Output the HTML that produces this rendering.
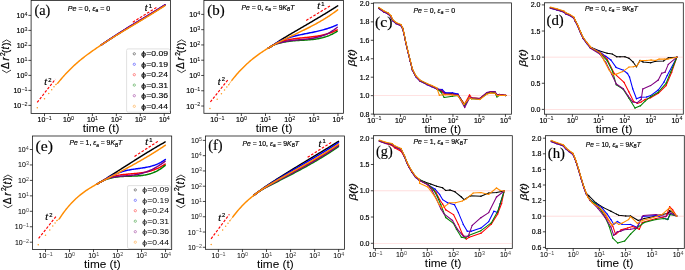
<!DOCTYPE html>
<html><head><meta charset="utf-8"><style>
html,body{margin:0;padding:0;background:#fff;width:685px;height:270px;overflow:hidden;}
svg{display:block;will-change:transform;}
text{stroke:#000;stroke-width:0.18px;}
.r2{stroke-width:0.06px;}
.s1{stroke-width:0.04px;}
.s2{stroke-width:0px;fill-opacity:0.75;}
.xl{stroke-width:0.03px;}
svg{font-family:"Liberation Sans", sans-serif;}
</style></head><body>
<svg xmlns="http://www.w3.org/2000/svg" width="685" height="270" viewBox="0 0 685 270"><rect width="685" height="270" fill="#fff"/><defs>
<clipPath id="clipa"><rect x="31.1" y="0.4" width="139.4" height="113"/></clipPath>
<clipPath id="clipb"><rect x="203.9" y="0.4" width="139.7" height="112.9"/></clipPath>
<clipPath id="clipc"><rect x="373.5" y="2.9" width="138" height="111.3"/></clipPath>
<clipPath id="clipd"><rect x="544.5" y="2.8" width="138.8" height="111.4"/></clipPath>
<clipPath id="clipe"><rect x="32.5" y="136" width="139.2" height="113.4"/></clipPath>
<clipPath id="clipf"><rect x="205.5" y="136" width="139.1" height="113.3"/></clipPath>
<clipPath id="clipg"><rect x="373.6" y="135.7" width="138.7" height="112.7"/></clipPath>
<clipPath id="cliph"><rect x="545.6" y="135.7" width="138.7" height="112.7"/></clipPath>
</defs>
<line x1="44.5" y1="113.4" x2="44.5" y2="116.1" stroke="#141414" stroke-width="0.78"/>
<line x1="68.45" y1="113.4" x2="68.45" y2="116.1" stroke="#141414" stroke-width="0.78"/>
<line x1="92.4" y1="113.4" x2="92.4" y2="116.1" stroke="#141414" stroke-width="0.78"/>
<line x1="116.35" y1="113.4" x2="116.35" y2="116.1" stroke="#141414" stroke-width="0.78"/>
<line x1="140.3" y1="113.4" x2="140.3" y2="116.1" stroke="#141414" stroke-width="0.78"/>
<line x1="164.25" y1="113.4" x2="164.25" y2="116.1" stroke="#141414" stroke-width="0.78"/>
<text x="37.62" y="121.7" font-family='"Liberation Sans", sans-serif' font-size="7" fill="#000000">10</text><text x="45.55" y="119.6" font-family='"Liberation Sans", sans-serif' font-size="5.4" fill="#000000" class="s1">−1</text>
<text x="63.12" y="121.7" font-family='"Liberation Sans", sans-serif' font-size="7" fill="#000000">10</text><text x="71.06" y="119.6" font-family='"Liberation Sans", sans-serif' font-size="5.4" fill="#000000" class="s1">0</text>
<text x="87.1" y="121.7" font-family='"Liberation Sans", sans-serif' font-size="7" fill="#000000">10</text><text x="95.03" y="119.6" font-family='"Liberation Sans", sans-serif' font-size="5.4" fill="#000000" class="s1">1</text>
<text x="111.05" y="121.7" font-family='"Liberation Sans", sans-serif' font-size="7" fill="#000000">10</text><text x="118.99" y="119.6" font-family='"Liberation Sans", sans-serif' font-size="5.4" fill="#000000" class="s1">2</text>
<text x="134.98" y="121.7" font-family='"Liberation Sans", sans-serif' font-size="7" fill="#000000">10</text><text x="142.92" y="119.6" font-family='"Liberation Sans", sans-serif' font-size="5.4" fill="#000000" class="s1">3</text>
<text x="158.89" y="121.7" font-family='"Liberation Sans", sans-serif' font-size="7" fill="#000000">10</text><text x="166.83" y="119.6" font-family='"Liberation Sans", sans-serif' font-size="5.4" fill="#000000" class="s1">4</text>
<line x1="28.4" y1="105.4" x2="31.1" y2="105.4" stroke="#141414" stroke-width="0.78"/>
<line x1="28.4" y1="90.4" x2="31.1" y2="90.4" stroke="#141414" stroke-width="0.78"/>
<line x1="28.4" y1="75.4" x2="31.1" y2="75.4" stroke="#141414" stroke-width="0.78"/>
<line x1="28.4" y1="60.4" x2="31.1" y2="60.4" stroke="#141414" stroke-width="0.78"/>
<line x1="28.4" y1="45.4" x2="31.1" y2="45.4" stroke="#141414" stroke-width="0.78"/>
<line x1="28.4" y1="30.4" x2="31.1" y2="30.4" stroke="#141414" stroke-width="0.78"/>
<line x1="28.4" y1="15.4" x2="31.1" y2="15.4" stroke="#141414" stroke-width="0.78"/>
<text x="13.48" y="107.9" font-family='"Liberation Sans", sans-serif' font-size="7" fill="#000000">10</text><text x="21.41" y="105.8" font-family='"Liberation Sans", sans-serif' font-size="5.4" fill="#000000" class="s1">−2</text>
<text x="13.47" y="92.9" font-family='"Liberation Sans", sans-serif' font-size="7" fill="#000000">10</text><text x="21.41" y="90.8" font-family='"Liberation Sans", sans-serif' font-size="5.4" fill="#000000" class="s1">−1</text>
<text x="16.57" y="77.9" font-family='"Liberation Sans", sans-serif' font-size="7" fill="#000000">10</text><text x="24.51" y="75.8" font-family='"Liberation Sans", sans-serif' font-size="5.4" fill="#000000" class="s1">0</text>
<text x="16.62" y="62.9" font-family='"Liberation Sans", sans-serif' font-size="7" fill="#000000">10</text><text x="24.56" y="60.8" font-family='"Liberation Sans", sans-serif' font-size="5.4" fill="#000000" class="s1">1</text>
<text x="16.63" y="47.9" font-family='"Liberation Sans", sans-serif' font-size="7" fill="#000000">10</text><text x="24.57" y="45.8" font-family='"Liberation Sans", sans-serif' font-size="5.4" fill="#000000" class="s1">2</text>
<text x="16.6" y="32.9" font-family='"Liberation Sans", sans-serif' font-size="7" fill="#000000">10</text><text x="24.53" y="30.8" font-family='"Liberation Sans", sans-serif' font-size="5.4" fill="#000000" class="s1">3</text>
<text x="16.52" y="17.9" font-family='"Liberation Sans", sans-serif' font-size="7" fill="#000000">10</text><text x="24.45" y="15.8" font-family='"Liberation Sans", sans-serif' font-size="5.4" fill="#000000" class="s1">4</text>
<rect x="31.1" y="0.4" width="139.4" height="113" fill="none" stroke="#141414" stroke-width="0.78"/>
<line x1="217.2" y1="113.3" x2="217.2" y2="116" stroke="#141414" stroke-width="0.78"/>
<line x1="241.35" y1="113.3" x2="241.35" y2="116" stroke="#141414" stroke-width="0.78"/>
<line x1="265.5" y1="113.3" x2="265.5" y2="116" stroke="#141414" stroke-width="0.78"/>
<line x1="289.65" y1="113.3" x2="289.65" y2="116" stroke="#141414" stroke-width="0.78"/>
<line x1="313.8" y1="113.3" x2="313.8" y2="116" stroke="#141414" stroke-width="0.78"/>
<line x1="337.95" y1="113.3" x2="337.95" y2="116" stroke="#141414" stroke-width="0.78"/>
<text x="210.32" y="121.6" font-family='"Liberation Sans", sans-serif' font-size="7" fill="#000000">10</text><text x="218.25" y="119.5" font-family='"Liberation Sans", sans-serif' font-size="5.4" fill="#000000" class="s1">−1</text>
<text x="236.02" y="121.6" font-family='"Liberation Sans", sans-serif' font-size="7" fill="#000000">10</text><text x="243.96" y="119.5" font-family='"Liberation Sans", sans-serif' font-size="5.4" fill="#000000" class="s1">0</text>
<text x="260.2" y="121.6" font-family='"Liberation Sans", sans-serif' font-size="7" fill="#000000">10</text><text x="268.13" y="119.5" font-family='"Liberation Sans", sans-serif' font-size="5.4" fill="#000000" class="s1">1</text>
<text x="284.35" y="121.6" font-family='"Liberation Sans", sans-serif' font-size="7" fill="#000000">10</text><text x="292.29" y="119.5" font-family='"Liberation Sans", sans-serif' font-size="5.4" fill="#000000" class="s1">2</text>
<text x="308.48" y="121.6" font-family='"Liberation Sans", sans-serif' font-size="7" fill="#000000">10</text><text x="316.42" y="119.5" font-family='"Liberation Sans", sans-serif' font-size="5.4" fill="#000000" class="s1">3</text>
<text x="332.59" y="121.6" font-family='"Liberation Sans", sans-serif' font-size="7" fill="#000000">10</text><text x="340.53" y="119.5" font-family='"Liberation Sans", sans-serif' font-size="5.4" fill="#000000" class="s1">4</text>
<line x1="201.2" y1="106.02" x2="203.9" y2="106.02" stroke="#141414" stroke-width="0.78"/>
<line x1="201.2" y1="90.75" x2="203.9" y2="90.75" stroke="#141414" stroke-width="0.78"/>
<line x1="201.2" y1="75.48" x2="203.9" y2="75.48" stroke="#141414" stroke-width="0.78"/>
<line x1="201.2" y1="60.21" x2="203.9" y2="60.21" stroke="#141414" stroke-width="0.78"/>
<line x1="201.2" y1="44.94" x2="203.9" y2="44.94" stroke="#141414" stroke-width="0.78"/>
<line x1="201.2" y1="29.67" x2="203.9" y2="29.67" stroke="#141414" stroke-width="0.78"/>
<line x1="201.2" y1="14.4" x2="203.9" y2="14.4" stroke="#141414" stroke-width="0.78"/>
<text x="186.28" y="108.52" font-family='"Liberation Sans", sans-serif' font-size="7" fill="#000000">10</text><text x="194.21" y="106.42" font-family='"Liberation Sans", sans-serif' font-size="5.4" fill="#000000" class="s1">−2</text>
<text x="186.27" y="93.25" font-family='"Liberation Sans", sans-serif' font-size="7" fill="#000000">10</text><text x="194.21" y="91.15" font-family='"Liberation Sans", sans-serif' font-size="5.4" fill="#000000" class="s1">−1</text>
<text x="189.37" y="77.98" font-family='"Liberation Sans", sans-serif' font-size="7" fill="#000000">10</text><text x="197.31" y="75.88" font-family='"Liberation Sans", sans-serif' font-size="5.4" fill="#000000" class="s1">0</text>
<text x="189.42" y="62.71" font-family='"Liberation Sans", sans-serif' font-size="7" fill="#000000">10</text><text x="197.36" y="60.61" font-family='"Liberation Sans", sans-serif' font-size="5.4" fill="#000000" class="s1">1</text>
<text x="189.43" y="47.44" font-family='"Liberation Sans", sans-serif' font-size="7" fill="#000000">10</text><text x="197.37" y="45.34" font-family='"Liberation Sans", sans-serif' font-size="5.4" fill="#000000" class="s1">2</text>
<text x="189.4" y="32.17" font-family='"Liberation Sans", sans-serif' font-size="7" fill="#000000">10</text><text x="197.33" y="30.07" font-family='"Liberation Sans", sans-serif' font-size="5.4" fill="#000000" class="s1">3</text>
<text x="189.32" y="16.9" font-family='"Liberation Sans", sans-serif' font-size="7" fill="#000000">10</text><text x="197.25" y="14.8" font-family='"Liberation Sans", sans-serif' font-size="5.4" fill="#000000" class="s1">4</text>
<rect x="203.9" y="0.4" width="139.7" height="112.9" fill="none" stroke="#141414" stroke-width="0.78"/>
<line x1="374.2" y1="114.2" x2="374.2" y2="116.9" stroke="#141414" stroke-width="0.78"/>
<line x1="400.45" y1="114.2" x2="400.45" y2="116.9" stroke="#141414" stroke-width="0.78"/>
<line x1="426.7" y1="114.2" x2="426.7" y2="116.9" stroke="#141414" stroke-width="0.78"/>
<line x1="452.95" y1="114.2" x2="452.95" y2="116.9" stroke="#141414" stroke-width="0.78"/>
<line x1="479.2" y1="114.2" x2="479.2" y2="116.9" stroke="#141414" stroke-width="0.78"/>
<line x1="505.45" y1="114.2" x2="505.45" y2="116.9" stroke="#141414" stroke-width="0.78"/>
<text x="367.32" y="122.5" font-family='"Liberation Sans", sans-serif' font-size="7" fill="#000000">10</text><text x="375.25" y="120.4" font-family='"Liberation Sans", sans-serif' font-size="5.4" fill="#000000" class="s1">−1</text>
<text x="395.12" y="122.5" font-family='"Liberation Sans", sans-serif' font-size="7" fill="#000000">10</text><text x="403.06" y="120.4" font-family='"Liberation Sans", sans-serif' font-size="5.4" fill="#000000" class="s1">0</text>
<text x="421.4" y="122.5" font-family='"Liberation Sans", sans-serif' font-size="7" fill="#000000">10</text><text x="429.33" y="120.4" font-family='"Liberation Sans", sans-serif' font-size="5.4" fill="#000000" class="s1">1</text>
<text x="447.65" y="122.5" font-family='"Liberation Sans", sans-serif' font-size="7" fill="#000000">10</text><text x="455.59" y="120.4" font-family='"Liberation Sans", sans-serif' font-size="5.4" fill="#000000" class="s1">2</text>
<text x="473.88" y="122.5" font-family='"Liberation Sans", sans-serif' font-size="7" fill="#000000">10</text><text x="481.82" y="120.4" font-family='"Liberation Sans", sans-serif' font-size="5.4" fill="#000000" class="s1">3</text>
<text x="500.09" y="122.5" font-family='"Liberation Sans", sans-serif' font-size="7" fill="#000000">10</text><text x="508.03" y="120.4" font-family='"Liberation Sans", sans-serif' font-size="5.4" fill="#000000" class="s1">4</text>
<line x1="370.8" y1="114.1" x2="373.5" y2="114.1" stroke="#141414" stroke-width="0.78"/>
<text x="359.67" y="116.6" font-family='"Liberation Sans", sans-serif' font-size="7" fill="#000000">0.8</text>
<line x1="370.8" y1="95.65" x2="373.5" y2="95.65" stroke="#141414" stroke-width="0.78"/>
<text x="359.64" y="98.15" font-family='"Liberation Sans", sans-serif' font-size="7" fill="#000000">1.0</text>
<line x1="370.8" y1="77.2" x2="373.5" y2="77.2" stroke="#141414" stroke-width="0.78"/>
<text x="359.72" y="79.7" font-family='"Liberation Sans", sans-serif' font-size="7" fill="#000000">1.2</text>
<line x1="370.8" y1="58.75" x2="373.5" y2="58.75" stroke="#141414" stroke-width="0.78"/>
<text x="359.57" y="61.25" font-family='"Liberation Sans", sans-serif' font-size="7" fill="#000000">1.4</text>
<line x1="370.8" y1="40.3" x2="373.5" y2="40.3" stroke="#141414" stroke-width="0.78"/>
<text x="359.68" y="42.8" font-family='"Liberation Sans", sans-serif' font-size="7" fill="#000000">1.6</text>
<line x1="370.8" y1="21.85" x2="373.5" y2="21.85" stroke="#141414" stroke-width="0.78"/>
<text x="359.67" y="24.35" font-family='"Liberation Sans", sans-serif' font-size="7" fill="#000000">1.8</text>
<line x1="370.8" y1="3.4" x2="373.5" y2="3.4" stroke="#141414" stroke-width="0.78"/>
<text x="359.64" y="5.9" font-family='"Liberation Sans", sans-serif' font-size="7" fill="#000000">2.0</text>
<rect x="373.5" y="2.9" width="138" height="111.3" fill="none" stroke="#141414" stroke-width="0.78"/>
<line x1="546.3" y1="114.2" x2="546.3" y2="116.9" stroke="#141414" stroke-width="0.78"/>
<line x1="572.4" y1="114.2" x2="572.4" y2="116.9" stroke="#141414" stroke-width="0.78"/>
<line x1="598.5" y1="114.2" x2="598.5" y2="116.9" stroke="#141414" stroke-width="0.78"/>
<line x1="624.6" y1="114.2" x2="624.6" y2="116.9" stroke="#141414" stroke-width="0.78"/>
<line x1="650.7" y1="114.2" x2="650.7" y2="116.9" stroke="#141414" stroke-width="0.78"/>
<line x1="676.8" y1="114.2" x2="676.8" y2="116.9" stroke="#141414" stroke-width="0.78"/>
<text x="539.42" y="122.5" font-family='"Liberation Sans", sans-serif' font-size="7" fill="#000000">10</text><text x="547.35" y="120.4" font-family='"Liberation Sans", sans-serif' font-size="5.4" fill="#000000" class="s1">−1</text>
<text x="567.07" y="122.5" font-family='"Liberation Sans", sans-serif' font-size="7" fill="#000000">10</text><text x="575.01" y="120.4" font-family='"Liberation Sans", sans-serif' font-size="5.4" fill="#000000" class="s1">0</text>
<text x="593.2" y="122.5" font-family='"Liberation Sans", sans-serif' font-size="7" fill="#000000">10</text><text x="601.13" y="120.4" font-family='"Liberation Sans", sans-serif' font-size="5.4" fill="#000000" class="s1">1</text>
<text x="619.3" y="122.5" font-family='"Liberation Sans", sans-serif' font-size="7" fill="#000000">10</text><text x="627.24" y="120.4" font-family='"Liberation Sans", sans-serif' font-size="5.4" fill="#000000" class="s1">2</text>
<text x="645.38" y="122.5" font-family='"Liberation Sans", sans-serif' font-size="7" fill="#000000">10</text><text x="653.32" y="120.4" font-family='"Liberation Sans", sans-serif' font-size="5.4" fill="#000000" class="s1">3</text>
<text x="671.44" y="122.5" font-family='"Liberation Sans", sans-serif' font-size="7" fill="#000000">10</text><text x="679.38" y="120.4" font-family='"Liberation Sans", sans-serif' font-size="5.4" fill="#000000" class="s1">4</text>
<line x1="541.8" y1="109.4" x2="544.5" y2="109.4" stroke="#141414" stroke-width="0.78"/>
<text x="530.64" y="111.9" font-family='"Liberation Sans", sans-serif' font-size="7" fill="#000000">0.0</text>
<line x1="541.8" y1="83.28" x2="544.5" y2="83.28" stroke="#141414" stroke-width="0.78"/>
<text x="530.66" y="85.78" font-family='"Liberation Sans", sans-serif' font-size="7" fill="#000000">0.5</text>
<line x1="541.8" y1="57.15" x2="544.5" y2="57.15" stroke="#141414" stroke-width="0.78"/>
<text x="530.64" y="59.65" font-family='"Liberation Sans", sans-serif' font-size="7" fill="#000000">1.0</text>
<line x1="541.8" y1="31.02" x2="544.5" y2="31.02" stroke="#141414" stroke-width="0.78"/>
<text x="530.66" y="33.52" font-family='"Liberation Sans", sans-serif' font-size="7" fill="#000000">1.5</text>
<line x1="541.8" y1="4.9" x2="544.5" y2="4.9" stroke="#141414" stroke-width="0.78"/>
<text x="530.64" y="7.4" font-family='"Liberation Sans", sans-serif' font-size="7" fill="#000000">2.0</text>
<rect x="544.5" y="2.8" width="138.8" height="111.4" fill="none" stroke="#141414" stroke-width="0.78"/>
<line x1="45.5" y1="249.4" x2="45.5" y2="252.1" stroke="#141414" stroke-width="0.78"/>
<line x1="69.5" y1="249.4" x2="69.5" y2="252.1" stroke="#141414" stroke-width="0.78"/>
<line x1="93.5" y1="249.4" x2="93.5" y2="252.1" stroke="#141414" stroke-width="0.78"/>
<line x1="117.5" y1="249.4" x2="117.5" y2="252.1" stroke="#141414" stroke-width="0.78"/>
<line x1="141.5" y1="249.4" x2="141.5" y2="252.1" stroke="#141414" stroke-width="0.78"/>
<line x1="165.5" y1="249.4" x2="165.5" y2="252.1" stroke="#141414" stroke-width="0.78"/>
<text x="38.62" y="257.7" font-family='"Liberation Sans", sans-serif' font-size="7" fill="#000000" class="r2">10</text><text x="46.55" y="255.6" font-family='"Liberation Sans", sans-serif' font-size="5.4" fill="#000000" class="s2">−1</text>
<text x="64.17" y="257.7" font-family='"Liberation Sans", sans-serif' font-size="7" fill="#000000" class="r2">10</text><text x="72.11" y="255.6" font-family='"Liberation Sans", sans-serif' font-size="5.4" fill="#000000" class="s2">0</text>
<text x="88.2" y="257.7" font-family='"Liberation Sans", sans-serif' font-size="7" fill="#000000" class="r2">10</text><text x="96.13" y="255.6" font-family='"Liberation Sans", sans-serif' font-size="5.4" fill="#000000" class="s2">1</text>
<text x="112.2" y="257.7" font-family='"Liberation Sans", sans-serif' font-size="7" fill="#000000" class="r2">10</text><text x="120.14" y="255.6" font-family='"Liberation Sans", sans-serif' font-size="5.4" fill="#000000" class="s2">2</text>
<text x="136.18" y="257.7" font-family='"Liberation Sans", sans-serif' font-size="7" fill="#000000" class="r2">10</text><text x="144.12" y="255.6" font-family='"Liberation Sans", sans-serif' font-size="5.4" fill="#000000" class="s2">3</text>
<text x="160.14" y="257.7" font-family='"Liberation Sans", sans-serif' font-size="7" fill="#000000" class="r2">10</text><text x="168.08" y="255.6" font-family='"Liberation Sans", sans-serif' font-size="5.4" fill="#000000" class="s2">4</text>
<line x1="29.8" y1="242.2" x2="32.5" y2="242.2" stroke="#141414" stroke-width="0.78"/>
<line x1="29.8" y1="226.75" x2="32.5" y2="226.75" stroke="#141414" stroke-width="0.78"/>
<line x1="29.8" y1="211.3" x2="32.5" y2="211.3" stroke="#141414" stroke-width="0.78"/>
<line x1="29.8" y1="195.85" x2="32.5" y2="195.85" stroke="#141414" stroke-width="0.78"/>
<line x1="29.8" y1="180.4" x2="32.5" y2="180.4" stroke="#141414" stroke-width="0.78"/>
<line x1="29.8" y1="164.95" x2="32.5" y2="164.95" stroke="#141414" stroke-width="0.78"/>
<line x1="29.8" y1="149.5" x2="32.5" y2="149.5" stroke="#141414" stroke-width="0.78"/>
<text x="14.88" y="244.7" font-family='"Liberation Sans", sans-serif' font-size="7" fill="#000000" class="r2">10</text><text x="22.81" y="242.6" font-family='"Liberation Sans", sans-serif' font-size="5.4" fill="#000000" class="s2">−2</text>
<text x="14.87" y="229.25" font-family='"Liberation Sans", sans-serif' font-size="7" fill="#000000" class="r2">10</text><text x="22.81" y="227.15" font-family='"Liberation Sans", sans-serif' font-size="5.4" fill="#000000" class="s2">−1</text>
<text x="17.97" y="213.8" font-family='"Liberation Sans", sans-serif' font-size="7" fill="#000000" class="r2">10</text><text x="25.91" y="211.7" font-family='"Liberation Sans", sans-serif' font-size="5.4" fill="#000000" class="s2">0</text>
<text x="18.02" y="198.35" font-family='"Liberation Sans", sans-serif' font-size="7" fill="#000000" class="r2">10</text><text x="25.96" y="196.25" font-family='"Liberation Sans", sans-serif' font-size="5.4" fill="#000000" class="s2">1</text>
<text x="18.03" y="182.9" font-family='"Liberation Sans", sans-serif' font-size="7" fill="#000000" class="r2">10</text><text x="25.97" y="180.8" font-family='"Liberation Sans", sans-serif' font-size="5.4" fill="#000000" class="s2">2</text>
<text x="18" y="167.45" font-family='"Liberation Sans", sans-serif' font-size="7" fill="#000000" class="r2">10</text><text x="25.93" y="165.35" font-family='"Liberation Sans", sans-serif' font-size="5.4" fill="#000000" class="s2">3</text>
<text x="17.92" y="152" font-family='"Liberation Sans", sans-serif' font-size="7" fill="#000000" class="r2">10</text><text x="25.85" y="149.9" font-family='"Liberation Sans", sans-serif' font-size="5.4" fill="#000000" class="s2">4</text>
<rect x="32.5" y="136" width="139.2" height="113.4" fill="none" stroke="#141414" stroke-width="0.78"/>
<line x1="218.4" y1="249.3" x2="218.4" y2="252" stroke="#141414" stroke-width="0.78"/>
<line x1="242.45" y1="249.3" x2="242.45" y2="252" stroke="#141414" stroke-width="0.78"/>
<line x1="266.5" y1="249.3" x2="266.5" y2="252" stroke="#141414" stroke-width="0.78"/>
<line x1="290.55" y1="249.3" x2="290.55" y2="252" stroke="#141414" stroke-width="0.78"/>
<line x1="314.6" y1="249.3" x2="314.6" y2="252" stroke="#141414" stroke-width="0.78"/>
<line x1="338.65" y1="249.3" x2="338.65" y2="252" stroke="#141414" stroke-width="0.78"/>
<text x="211.52" y="257.6" font-family='"Liberation Sans", sans-serif' font-size="7" fill="#000000" class="r2">10</text><text x="219.45" y="255.5" font-family='"Liberation Sans", sans-serif' font-size="5.4" fill="#000000" class="s2">−1</text>
<text x="237.12" y="257.6" font-family='"Liberation Sans", sans-serif' font-size="7" fill="#000000" class="r2">10</text><text x="245.06" y="255.5" font-family='"Liberation Sans", sans-serif' font-size="5.4" fill="#000000" class="s2">0</text>
<text x="261.2" y="257.6" font-family='"Liberation Sans", sans-serif' font-size="7" fill="#000000" class="r2">10</text><text x="269.13" y="255.5" font-family='"Liberation Sans", sans-serif' font-size="5.4" fill="#000000" class="s2">1</text>
<text x="285.25" y="257.6" font-family='"Liberation Sans", sans-serif' font-size="7" fill="#000000" class="r2">10</text><text x="293.19" y="255.5" font-family='"Liberation Sans", sans-serif' font-size="5.4" fill="#000000" class="s2">2</text>
<text x="309.28" y="257.6" font-family='"Liberation Sans", sans-serif' font-size="7" fill="#000000" class="r2">10</text><text x="317.22" y="255.5" font-family='"Liberation Sans", sans-serif' font-size="5.4" fill="#000000" class="s2">3</text>
<text x="333.29" y="257.6" font-family='"Liberation Sans", sans-serif' font-size="7" fill="#000000" class="r2">10</text><text x="341.23" y="255.5" font-family='"Liberation Sans", sans-serif' font-size="5.4" fill="#000000" class="s2">4</text>
<line x1="202.8" y1="247.29" x2="205.5" y2="247.29" stroke="#141414" stroke-width="0.78"/>
<line x1="202.8" y1="232.02" x2="205.5" y2="232.02" stroke="#141414" stroke-width="0.78"/>
<line x1="202.8" y1="216.75" x2="205.5" y2="216.75" stroke="#141414" stroke-width="0.78"/>
<line x1="202.8" y1="201.48" x2="205.5" y2="201.48" stroke="#141414" stroke-width="0.78"/>
<line x1="202.8" y1="186.21" x2="205.5" y2="186.21" stroke="#141414" stroke-width="0.78"/>
<line x1="202.8" y1="170.94" x2="205.5" y2="170.94" stroke="#141414" stroke-width="0.78"/>
<line x1="202.8" y1="155.67" x2="205.5" y2="155.67" stroke="#141414" stroke-width="0.78"/>
<line x1="202.8" y1="140.4" x2="205.5" y2="140.4" stroke="#141414" stroke-width="0.78"/>
<text x="187.88" y="249.79" font-family='"Liberation Sans", sans-serif' font-size="7" fill="#000000" class="r2">10</text><text x="195.81" y="247.69" font-family='"Liberation Sans", sans-serif' font-size="5.4" fill="#000000" class="s2">−2</text>
<text x="187.87" y="234.52" font-family='"Liberation Sans", sans-serif' font-size="7" fill="#000000" class="r2">10</text><text x="195.81" y="232.42" font-family='"Liberation Sans", sans-serif' font-size="5.4" fill="#000000" class="s2">−1</text>
<text x="190.97" y="219.25" font-family='"Liberation Sans", sans-serif' font-size="7" fill="#000000" class="r2">10</text><text x="198.91" y="217.15" font-family='"Liberation Sans", sans-serif' font-size="5.4" fill="#000000" class="s2">0</text>
<text x="191.02" y="203.98" font-family='"Liberation Sans", sans-serif' font-size="7" fill="#000000" class="r2">10</text><text x="198.96" y="201.88" font-family='"Liberation Sans", sans-serif' font-size="5.4" fill="#000000" class="s2">1</text>
<text x="191.03" y="188.71" font-family='"Liberation Sans", sans-serif' font-size="7" fill="#000000" class="r2">10</text><text x="198.97" y="186.61" font-family='"Liberation Sans", sans-serif' font-size="5.4" fill="#000000" class="s2">2</text>
<text x="191" y="173.44" font-family='"Liberation Sans", sans-serif' font-size="7" fill="#000000" class="r2">10</text><text x="198.93" y="171.34" font-family='"Liberation Sans", sans-serif' font-size="5.4" fill="#000000" class="s2">3</text>
<text x="190.92" y="158.17" font-family='"Liberation Sans", sans-serif' font-size="7" fill="#000000" class="r2">10</text><text x="198.85" y="156.07" font-family='"Liberation Sans", sans-serif' font-size="5.4" fill="#000000" class="s2">4</text>
<text x="190.99" y="142.9" font-family='"Liberation Sans", sans-serif' font-size="7" fill="#000000" class="r2">10</text><text x="198.92" y="140.8" font-family='"Liberation Sans", sans-serif' font-size="5.4" fill="#000000" class="s2">5</text>
<rect x="205.5" y="136" width="139.1" height="113.3" fill="none" stroke="#141414" stroke-width="0.78"/>
<line x1="375.3" y1="248.4" x2="375.3" y2="251.1" stroke="#141414" stroke-width="0.78"/>
<line x1="401.3" y1="248.4" x2="401.3" y2="251.1" stroke="#141414" stroke-width="0.78"/>
<line x1="427.3" y1="248.4" x2="427.3" y2="251.1" stroke="#141414" stroke-width="0.78"/>
<line x1="453.3" y1="248.4" x2="453.3" y2="251.1" stroke="#141414" stroke-width="0.78"/>
<line x1="479.3" y1="248.4" x2="479.3" y2="251.1" stroke="#141414" stroke-width="0.78"/>
<line x1="505.3" y1="248.4" x2="505.3" y2="251.1" stroke="#141414" stroke-width="0.78"/>
<text x="368.42" y="256.7" font-family='"Liberation Sans", sans-serif' font-size="7" fill="#000000" class="r2">10</text><text x="376.35" y="254.6" font-family='"Liberation Sans", sans-serif' font-size="5.4" fill="#000000" class="s2">−1</text>
<text x="395.97" y="256.7" font-family='"Liberation Sans", sans-serif' font-size="7" fill="#000000" class="r2">10</text><text x="403.91" y="254.6" font-family='"Liberation Sans", sans-serif' font-size="5.4" fill="#000000" class="s2">0</text>
<text x="422" y="256.7" font-family='"Liberation Sans", sans-serif' font-size="7" fill="#000000" class="r2">10</text><text x="429.93" y="254.6" font-family='"Liberation Sans", sans-serif' font-size="5.4" fill="#000000" class="s2">1</text>
<text x="448" y="256.7" font-family='"Liberation Sans", sans-serif' font-size="7" fill="#000000" class="r2">10</text><text x="455.94" y="254.6" font-family='"Liberation Sans", sans-serif' font-size="5.4" fill="#000000" class="s2">2</text>
<text x="473.98" y="256.7" font-family='"Liberation Sans", sans-serif' font-size="7" fill="#000000" class="r2">10</text><text x="481.92" y="254.6" font-family='"Liberation Sans", sans-serif' font-size="5.4" fill="#000000" class="s2">3</text>
<text x="499.94" y="256.7" font-family='"Liberation Sans", sans-serif' font-size="7" fill="#000000" class="r2">10</text><text x="507.88" y="254.6" font-family='"Liberation Sans", sans-serif' font-size="5.4" fill="#000000" class="s2">4</text>
<line x1="370.9" y1="243.3" x2="373.6" y2="243.3" stroke="#141414" stroke-width="0.78"/>
<text x="359.74" y="245.8" font-family='"Liberation Sans", sans-serif' font-size="7" fill="#000000">0.0</text>
<line x1="370.9" y1="217.02" x2="373.6" y2="217.02" stroke="#141414" stroke-width="0.78"/>
<text x="359.76" y="219.52" font-family='"Liberation Sans", sans-serif' font-size="7" fill="#000000">0.5</text>
<line x1="370.9" y1="190.75" x2="373.6" y2="190.75" stroke="#141414" stroke-width="0.78"/>
<text x="359.74" y="193.25" font-family='"Liberation Sans", sans-serif' font-size="7" fill="#000000">1.0</text>
<line x1="370.9" y1="164.47" x2="373.6" y2="164.47" stroke="#141414" stroke-width="0.78"/>
<text x="359.76" y="166.97" font-family='"Liberation Sans", sans-serif' font-size="7" fill="#000000">1.5</text>
<line x1="370.9" y1="138.2" x2="373.6" y2="138.2" stroke="#141414" stroke-width="0.78"/>
<text x="359.74" y="140.7" font-family='"Liberation Sans", sans-serif' font-size="7" fill="#000000">2.0</text>
<rect x="373.6" y="135.7" width="138.7" height="112.7" fill="none" stroke="#141414" stroke-width="0.78"/>
<line x1="547" y1="248.4" x2="547" y2="251.1" stroke="#141414" stroke-width="0.78"/>
<line x1="573.2" y1="248.4" x2="573.2" y2="251.1" stroke="#141414" stroke-width="0.78"/>
<line x1="599.4" y1="248.4" x2="599.4" y2="251.1" stroke="#141414" stroke-width="0.78"/>
<line x1="625.6" y1="248.4" x2="625.6" y2="251.1" stroke="#141414" stroke-width="0.78"/>
<line x1="651.8" y1="248.4" x2="651.8" y2="251.1" stroke="#141414" stroke-width="0.78"/>
<line x1="678" y1="248.4" x2="678" y2="251.1" stroke="#141414" stroke-width="0.78"/>
<text x="540.12" y="256.7" font-family='"Liberation Sans", sans-serif' font-size="7" fill="#000000" class="r2">10</text><text x="548.05" y="254.6" font-family='"Liberation Sans", sans-serif' font-size="5.4" fill="#000000" class="s2">−1</text>
<text x="567.87" y="256.7" font-family='"Liberation Sans", sans-serif' font-size="7" fill="#000000" class="r2">10</text><text x="575.81" y="254.6" font-family='"Liberation Sans", sans-serif' font-size="5.4" fill="#000000" class="s2">0</text>
<text x="594.1" y="256.7" font-family='"Liberation Sans", sans-serif' font-size="7" fill="#000000" class="r2">10</text><text x="602.03" y="254.6" font-family='"Liberation Sans", sans-serif' font-size="5.4" fill="#000000" class="s2">1</text>
<text x="620.3" y="256.7" font-family='"Liberation Sans", sans-serif' font-size="7" fill="#000000" class="r2">10</text><text x="628.24" y="254.6" font-family='"Liberation Sans", sans-serif' font-size="5.4" fill="#000000" class="s2">2</text>
<text x="646.48" y="256.7" font-family='"Liberation Sans", sans-serif' font-size="7" fill="#000000" class="r2">10</text><text x="654.42" y="254.6" font-family='"Liberation Sans", sans-serif' font-size="5.4" fill="#000000" class="s2">3</text>
<text x="672.64" y="256.7" font-family='"Liberation Sans", sans-serif' font-size="7" fill="#000000" class="r2">10</text><text x="680.58" y="254.6" font-family='"Liberation Sans", sans-serif' font-size="5.4" fill="#000000" class="s2">4</text>
<line x1="542.9" y1="247.4" x2="545.6" y2="247.4" stroke="#141414" stroke-width="0.78"/>
<text x="531.78" y="249.9" font-family='"Liberation Sans", sans-serif' font-size="7" fill="#000000">0.6</text>
<line x1="542.9" y1="231.8" x2="545.6" y2="231.8" stroke="#141414" stroke-width="0.78"/>
<text x="531.77" y="234.3" font-family='"Liberation Sans", sans-serif' font-size="7" fill="#000000">0.8</text>
<line x1="542.9" y1="216.2" x2="545.6" y2="216.2" stroke="#141414" stroke-width="0.78"/>
<text x="531.74" y="218.7" font-family='"Liberation Sans", sans-serif' font-size="7" fill="#000000">1.0</text>
<line x1="542.9" y1="200.6" x2="545.6" y2="200.6" stroke="#141414" stroke-width="0.78"/>
<text x="531.82" y="203.1" font-family='"Liberation Sans", sans-serif' font-size="7" fill="#000000">1.2</text>
<line x1="542.9" y1="185" x2="545.6" y2="185" stroke="#141414" stroke-width="0.78"/>
<text x="531.67" y="187.5" font-family='"Liberation Sans", sans-serif' font-size="7" fill="#000000">1.4</text>
<line x1="542.9" y1="169.4" x2="545.6" y2="169.4" stroke="#141414" stroke-width="0.78"/>
<text x="531.78" y="171.9" font-family='"Liberation Sans", sans-serif' font-size="7" fill="#000000">1.6</text>
<line x1="542.9" y1="153.8" x2="545.6" y2="153.8" stroke="#141414" stroke-width="0.78"/>
<text x="531.77" y="156.3" font-family='"Liberation Sans", sans-serif' font-size="7" fill="#000000">1.8</text>
<line x1="542.9" y1="138.2" x2="545.6" y2="138.2" stroke="#141414" stroke-width="0.78"/>
<text x="531.74" y="140.7" font-family='"Liberation Sans", sans-serif' font-size="7" fill="#000000">2.0</text>
<rect x="545.6" y="135.7" width="138.7" height="112.7" fill="none" stroke="#141414" stroke-width="0.78"/>
<line x1="373.5" y1="95.6" x2="511.5" y2="95.6" stroke="#ff9a9a" stroke-width="0.6" opacity="0.55"/>
<line x1="544.5" y1="57.15" x2="683.3" y2="57.15" stroke="#ff9a9a" stroke-width="0.6" opacity="0.55"/>
<line x1="544.5" y1="109.4" x2="683.3" y2="109.4" stroke="#ff9a9a" stroke-width="0.6" opacity="0.55"/>
<line x1="373.6" y1="190.75" x2="512.3" y2="190.75" stroke="#ff9a9a" stroke-width="0.6" opacity="0.55"/>
<line x1="373.6" y1="243.3" x2="512.3" y2="243.3" stroke="#ff9a9a" stroke-width="0.6" opacity="0.55"/>
<line x1="545.6" y1="216.2" x2="684.3" y2="216.2" stroke="#ff9a9a" stroke-width="0.6" opacity="0.55"/>
<g clip-path="url(#clipa)">
<circle cx="37.29" cy="107.77" r="0.75" fill="#ff8c00" opacity="0.9"/><circle cx="44.5" cy="98.74" r="0.75" fill="#ff8c00" opacity="0.9"/><circle cx="48.72" cy="93.46" r="0.75" fill="#ff8c00" opacity="0.9"/><circle cx="51.71" cy="89.71" r="0.75" fill="#ff8c00" opacity="0.9"/><circle cx="54.03" cy="86.8" r="0.75" fill="#ff8c00" opacity="0.9"/><circle cx="55.93" cy="84.43" r="0.75" fill="#ff8c00" opacity="0.9"/>
<polyline points="55.93,84.43 57.8,83.13" fill="none" stroke="#ff8c00" stroke-width="0.8" stroke-linejoin="round" stroke-linecap="round" opacity="0.7"/>
<polyline points="100.8,45.27 101.8,44.59 102.8,43.92 103.8,43.26 104.8,42.6 105.8,41.94 106.8,41.28 107.8,40.63 108.8,39.98 109.8,39.33 110.8,38.68 111.8,38.04 112.8,37.4 113.8,36.76 114.8,36.12 115.8,35.49 116.8,34.86 117.8,34.23 118.8,33.6 119.8,32.97 120.8,32.35 121.8,31.72 122.8,31.1 123.8,30.48 124.8,29.86 125.8,29.24 126.8,28.62 127.8,28.01 128.8,27.39 129.8,26.77 130.8,26.17 131.8,25.57 132.8,24.97 133.8,24.37 134.8,23.77 135.8,23.17 136.8,22.57 137.8,21.97 138.8,21.37 139.8,20.77 140.8,20.17 141.8,19.57 142.8,18.97 143.8,18.37 144.8,17.76 145.8,17.16 146.8,16.55 147.8,15.94 148.8,15.33 149.8,14.72 150.8,14.11 151.8,13.5 152.8,12.88 153.8,12.26 154.8,11.64 155.8,11.02 156.8,10.4 157.8,9.77 158.8,9.14 159.8,8.51 160.8,7.88 161.8,7.24 162.8,6.6 163.8,5.96 164.8,5.31 165,5.18" fill="none" stroke="#000000" stroke-width="1.45" stroke-linejoin="round" stroke-linecap="round"/>
<polyline points="100.8,45.26 101.8,44.58 102.8,43.9 103.8,43.22 104.8,42.55 105.8,41.88 106.8,41.21 107.8,40.55 108.8,39.89 109.8,39.23 110.8,38.57 111.8,37.92 112.8,37.27 113.8,36.62 114.8,35.98 115.8,35.33 116.8,34.69 117.8,34.05 118.8,33.41 119.8,32.77 120.8,32.14 121.8,31.51 122.8,30.87 123.8,30.24 124.8,29.61 125.8,28.98 126.8,28.36 127.8,27.73 128.8,27.1 129.8,26.48 130.8,25.87 131.8,25.27 132.8,24.67 133.8,24.07 134.8,23.47 135.8,22.87 136.8,22.27 137.8,21.67 138.8,21.07 139.8,20.47 140.8,19.87 141.8,19.27 142.8,18.67 143.8,18.07 144.8,17.46 145.8,16.86 146.8,16.25 147.8,15.64 148.8,15.03 149.8,14.42 150.8,13.81 151.8,13.2 152.8,12.58 153.8,11.96 154.8,11.34 155.8,10.72 156.8,10.1 157.8,9.47 158.8,8.84 159.8,8.21 160.8,7.58 161.8,6.94 162.8,6.3 163.8,5.66 164.8,5.01 165,4.88" fill="none" stroke="#0000ff" stroke-width="1.45" stroke-linejoin="round" stroke-linecap="round"/>
<polyline points="100.8,45.25 101.8,44.57 102.8,43.88 103.8,43.2 104.8,42.52 105.8,41.85 106.8,41.18 107.8,40.51 108.8,39.84 109.8,39.18 110.8,38.52 111.8,37.86 112.8,37.21 113.8,36.55 114.8,35.9 115.8,35.25 116.8,34.61 117.8,33.96 118.8,33.32 119.8,32.68 120.8,32.04 121.8,31.4 122.8,30.76 123.8,30.12 124.8,29.49 125.8,28.85 126.8,28.22 127.8,27.59 128.8,26.96 129.8,26.33 130.8,25.72 131.8,25.12 132.8,24.52 133.8,23.92 134.8,23.32 135.8,22.72 136.8,22.12 137.8,21.52 138.8,20.92 139.8,20.32 140.8,19.72 141.8,19.12 142.8,18.52 143.8,17.92 144.8,17.31 145.8,16.71 146.8,16.1 147.8,15.49 148.8,14.88 149.8,14.27 150.8,13.66 151.8,13.05 152.8,12.43 153.8,11.81 154.8,11.19 155.8,10.57 156.8,9.95 157.8,9.32 158.8,8.69 159.8,8.06 160.8,7.43 161.8,6.79 162.8,6.15 163.8,5.51 164.8,4.86 165,4.73" fill="none" stroke="#800080" stroke-width="1.45" stroke-linejoin="round" stroke-linecap="round"/>
<polyline points="57.8,83.13 58.8,81.88 59.8,80.66 60.8,79.46 61.8,78.28 62.8,77.12 63.8,75.99 64.8,74.88 65.8,73.8 66.8,72.73 67.8,71.68 68.8,70.66 69.8,69.65 70.8,68.66 71.8,67.7 72.8,66.75 73.8,65.81 74.8,64.9 75.8,64 76.8,63.11 77.8,62.24 78.8,61.39 79.8,60.55 80.8,59.72 81.8,58.91 82.8,58.11 83.8,57.32 84.8,56.55 85.8,55.78 86.8,55.03 87.8,54.28 88.8,53.55 89.8,52.82 90.8,52.1 91.8,51.39 92.8,50.69 93.8,50 94.8,49.31 95.8,48.62 96.8,47.95 97.8,47.27 98.8,46.6 99.8,45.94 100.8,45.28 101.8,44.62 102.8,43.97 103.8,43.32 104.8,42.67 105.8,42.02 106.8,41.38 107.8,40.74 108.8,40.11 109.8,39.47 110.8,38.84 111.8,38.22 112.8,37.59 113.8,36.97 114.8,36.35 115.8,35.73 116.8,35.11 117.8,34.49 118.8,33.88 119.8,33.27 120.8,32.66 121.8,32.05 122.8,31.44 123.8,30.84 124.8,30.23 125.8,29.63 126.8,29.03 127.8,28.42 128.8,27.82 129.8,27.22 130.8,26.62 131.8,26.02 132.8,25.42 133.8,24.82 134.8,24.22 135.8,23.62 136.8,23.02 137.8,22.42 138.8,21.82 139.8,21.22 140.8,20.62 141.8,20.02 142.8,19.42 143.8,18.82 144.8,18.21 145.8,17.61 146.8,17 147.8,16.39 148.8,15.78 149.8,15.17 150.8,14.56 151.8,13.95 152.8,13.33 153.8,12.71 154.8,12.09 155.8,11.47 156.8,10.85 157.8,10.22 158.8,9.59 159.8,8.96 160.8,8.33 161.8,7.69 162.8,7.05 163.8,6.41 164.8,5.76 165,5.63" fill="none" stroke="#ff8c00" stroke-width="1.45" stroke-linejoin="round" stroke-linecap="round"/>
</g>
<g clip-path="url(#clipb)">
<circle cx="209.93" cy="108.43" r="0.75" fill="#ff8c00" opacity="0.9"/><circle cx="217.2" cy="99.24" r="0.75" fill="#ff8c00" opacity="0.9"/><circle cx="221.45" cy="93.86" r="0.75" fill="#ff8c00" opacity="0.9"/><circle cx="224.47" cy="90.05" r="0.75" fill="#ff8c00" opacity="0.9"/><circle cx="226.81" cy="87.09" r="0.75" fill="#ff8c00" opacity="0.9"/><circle cx="228.72" cy="84.67" r="0.75" fill="#ff8c00" opacity="0.9"/>
<polyline points="228.72,84.67 232,80.12" fill="none" stroke="#ff8c00" stroke-width="0.8" stroke-linejoin="round" stroke-linecap="round" opacity="0.7"/>
<polyline points="268,48.25 269,47.66 270,47.07 271,46.5 272,45.87 273,45.23 274,44.57 275,43.89 276,43.21 277,42.5 278,41.77 279,41.03 280,40.39 281,39.77 282,39.17 283,38.56 284,37.96 285,37.35 286,36.76 287,36.16 288,35.56 289,34.97 290,34.37 291,33.78 292,33.19 293,32.6 294,32.02 295,31.43 296,30.84 297,30.26 298,29.68 299,29.09 300,28.51 301,27.93 302,27.34 303,26.76 304,26.18 305,25.6 306,25.01 307,24.43 308,23.85 309,23.26 310,22.68 311,22.09 312,21.51 313,20.92 314,20.33 315,19.74 316,19.15 317,18.56 318,17.97 319,17.37 320,16.77 321,16.18 322,15.57 323,14.97 324,14.37 325,13.76 326,13.15 327,12.54 328,11.92 329,11.31 330,10.69 331,10.06 332,9.44 333,8.81 334,8.17 335,7.54 336,6.9 337,6.26 337.7,5.8" fill="none" stroke="#000000" stroke-width="1.45" stroke-linejoin="round" stroke-linecap="round"/>
<polyline points="268,48.25 269,47.66 270,47.07 271,46.5 272,45.86 273,45.22 274,44.57 275,43.94 276,43.32 277,42.71 278,42.12 279,41.57 280,41.09 281,40.66 282,40.23 283,39.83 284,39.44 285,39.06 286,38.7 287,38.36 288,38.03 289,37.71 290,37.4 291,37.11 292,36.82 293,36.55 294,36.28 295,36.03 296,35.78 297,35.54 298,35.31 299,35.08 300,34.86 301,34.65 302,34.43 303,34.23 304,34.02 305,33.82 306,33.62 307,33.42 308,33.23 309,33.03 310,32.83 311,32.63 312,32.43 313,32.22 314,32.01 315,31.8 316,31.59 317,31.36 318,31.14 319,30.9 320,30.66 321,30.41 322,30.15 323,29.89 324,29.61 325,29.32 326,29.03 327,28.72 328,28.4 329,28.06 330,27.71 331,27.35 332,26.97 333,26.58 334,26.17 335,25.75 336,25.3 337,24.84 337.2,24.75" fill="none" stroke="#0000ff" stroke-width="1.45" stroke-linejoin="round" stroke-linecap="round"/>
<polyline points="268,48.25 269,47.66 270,47.07 271,46.5 272,45.88 273,45.28 274,44.7 275,44.16 276,43.65 277,43.18 278,42.76 279,42.39 280,42.04 281,41.71 282,41.39 283,41.09 284,40.81 285,40.55 286,40.3 287,40.07 288,39.85 289,39.65 290,39.46 291,39.28 292,39.11 293,38.95 294,38.8 295,38.66 296,38.53 297,38.4 298,38.29 299,38.17 300,38.06 301,37.96 302,37.86 303,37.76 304,37.66 305,37.56 306,37.47 307,37.37 308,37.27 309,37.16 310,37.06 311,36.95 312,36.83 313,36.71 314,36.59 315,36.45 316,36.31 317,36.16 318,35.99 319,35.82 320,35.64 321,35.44 322,35.23 323,35.01 324,34.77 325,34.52 326,34.25 327,33.96 328,33.66 329,33.34 330,33 331,32.63 332,32.25 333,31.84 334,31.42 335,30.96 336,30.49 337,29.99 337.2,29.88" fill="none" stroke="#ff0000" stroke-width="1.45" stroke-linejoin="round" stroke-linecap="round"/>
<polyline points="268,48.25 269,47.66 270,47.07 271,46.5 272,45.93 273,45.39 274,44.9 275,44.46 276,44.07 277,43.75 278,43.49 279,43.3 280,43.04 281,42.78 282,42.54 283,42.32 284,42.11 285,41.92 286,41.74 287,41.58 288,41.44 289,41.3 290,41.18 291,41.07 292,40.97 293,40.87 294,40.79 295,40.71 296,40.64 297,40.57 298,40.51 299,40.45 300,40.39 301,40.33 302,40.28 303,40.22 304,40.16 305,40.1 306,40.04 307,39.98 308,39.9 309,39.83 310,39.74 311,39.65 312,39.55 313,39.43 314,39.31 315,39.18 316,39.03 317,38.87 318,38.7 319,38.51 320,38.3 321,38.08 322,37.84 323,37.58 324,37.3 325,37 326,36.68 327,36.33 328,35.96 329,35.57 330,35.15 331,34.7 332,34.23 333,33.73 334,33.2 335,32.64 336,32.04 337,31.42 337.2,31.29" fill="none" stroke="#008000" stroke-width="1.45" stroke-linejoin="round" stroke-linecap="round"/>
<polyline points="268,48.25 269,47.66 270,47.07 271,46.5 272,45.91 273,45.36 274,44.84 275,44.37 276,43.95 277,43.59 278,43.29 279,43.06 280,42.78 281,42.5 282,42.25 283,42.01 284,41.79 285,41.58 286,41.39 287,41.21 288,41.05 289,40.9 290,40.76 291,40.63 292,40.5 293,40.39 294,40.28 295,40.18 296,40.09 297,39.99 298,39.9 299,39.82 300,39.73 301,39.64 302,39.55 303,39.46 304,39.37 305,39.27 306,39.16 307,39.05 308,38.93 309,38.8 310,38.66 311,38.52 312,38.35 313,38.18 314,37.99 315,37.79 316,37.58 317,37.34 318,37.09 319,36.82 320,36.53 321,36.21 322,35.88 323,35.52 324,35.14 325,34.73 326,34.3 327,33.84 328,33.35 329,32.83 330,32.28 331,31.7 332,31.08 333,30.44 334,29.76 335,29.04 336,28.29 337,27.5 337.2,27.33" fill="none" stroke="#800080" stroke-width="1.45" stroke-linejoin="round" stroke-linecap="round"/>
<polyline points="232,80.12 233,78.86 234,77.63 235,76.42 236,75.24 237,74.09 238,72.96 239,71.85 240,70.77 241,69.71 242,68.68 243,67.67 244,66.68 245,65.71 246,64.76 247,63.83 248,62.92 249,62.04 250,61.17 251,60.32 252,59.48 253,58.67 254,57.87 255,57.09 256,56.33 257,55.58 258,54.85 259,54.13 260,53.42 261,52.73 262,52.06 263,51.39 264,50.74 265,50.1 266,49.48 267,48.86 268,48.25 269,47.66 270,47.07 271,46.5 272,45.93 273,45.37 274,44.81 275,44.27 276,43.73 277,43.2 278,42.67 279,42.15 280,41.64 281,41.13 282,40.62 283,40.12 284,39.62 285,39.13 286,38.64 287,38.15 288,37.66 289,37.18 290,36.7 291,36.22 292,35.74 293,35.26 294,34.78 295,34.31 296,33.83 297,33.35 298,32.88 299,32.4 300,31.92 301,31.44 302,30.96 303,30.47 304,29.98 305,29.49 306,29 307,28.5 308,28 309,27.49 310,26.98 311,26.47 312,25.95 313,25.42 314,24.89 315,24.36 316,23.81 317,23.26 318,22.71 319,22.14 320,21.57 321,20.99 322,20.4 323,19.8 324,19.2 325,18.58 326,17.95 327,17.32 328,16.67 329,16.02 330,15.35 331,14.67 332,13.98 333,13.28 334,12.57 335,11.84 336,11.1 337,10.35 337.7,9.82" fill="none" stroke="#ff8c00" stroke-width="1.45" stroke-linejoin="round" stroke-linecap="round"/>
</g>
<g clip-path="url(#clipe)">
<circle cx="38.28" cy="244.64" r="0.75" fill="#ff8c00" opacity="0.9"/><circle cx="45.5" cy="235.34" r="0.75" fill="#ff8c00" opacity="0.9"/><circle cx="49.73" cy="229.9" r="0.75" fill="#ff8c00" opacity="0.9"/><circle cx="52.72" cy="226.04" r="0.75" fill="#ff8c00" opacity="0.9"/><circle cx="55.05" cy="223.04" r="0.75" fill="#ff8c00" opacity="0.9"/><circle cx="56.95" cy="220.6" r="0.75" fill="#ff8c00" opacity="0.9"/>
<polyline points="56.95,220.6 59.3,218.85" fill="none" stroke="#ff8c00" stroke-width="0.8" stroke-linejoin="round" stroke-linecap="round" opacity="0.7"/>
<polyline points="97.3,183.84 98.3,183.3 99.3,182.76 100.3,182.23 101.3,181.67 102.3,181.07 103.3,180.46 104.3,179.82 105.3,179.16 106.3,178.48 107.3,177.78 108.3,177.05 109.3,176.38 110.3,175.77 111.3,175.15 112.3,174.52 113.3,173.9 114.3,173.27 115.3,172.65 116.3,172.02 117.3,171.39 118.3,170.76 119.3,170.13 120.3,169.5 121.3,168.86 122.3,168.23 123.3,167.59 124.3,166.96 125.3,166.32 126.3,165.69 127.3,165.05 128.3,164.42 129.3,163.78 130.3,163.15 131.3,162.51 132.3,161.88 133.3,161.24 134.3,160.61 135.3,159.98 136.3,159.34 137.3,158.71 138.3,158.08 139.3,157.45 140.3,156.83 141.3,156.2 142.3,155.58 143.3,154.95 144.3,154.33 145.3,153.71 146.3,153.1 147.3,152.48 148.3,151.87 149.3,151.26 150.3,150.65 151.3,150.05 152.3,149.44 153.3,148.84 154.3,148.25 155.3,147.65 156.3,147.06 157.3,146.47 158.3,145.89 159.3,145.31 160.3,144.73 161.3,144.16 162.3,143.58 163.3,143.02 164.3,142.46 165.2,141.95" fill="none" stroke="#000000" stroke-width="1.45" stroke-linejoin="round" stroke-linecap="round"/>
<polyline points="97.3,183.84 98.3,183.3 99.3,182.76 100.3,182.23 101.3,181.66 102.3,181.06 103.3,180.45 104.3,179.84 105.3,179.23 106.3,178.61 107.3,178.01 108.3,177.42 109.3,176.89 110.3,176.4 111.3,175.93 112.3,175.47 113.3,175.02 114.3,174.59 115.3,174.17 116.3,173.77 117.3,173.38 118.3,173 119.3,172.64 120.3,172.3 121.3,171.97 122.3,171.65 123.3,171.36 124.3,171.07 125.3,170.81 126.3,170.56 127.3,170.33 128.3,170.12 129.3,169.92 130.3,169.73 131.3,169.56 132.3,169.4 133.3,169.24 134.3,169.1 135.3,168.95 136.3,168.82 137.3,168.68 138.3,168.55 139.3,168.41 140.3,168.27 141.3,168.13 142.3,167.99 143.3,167.83 144.3,167.67 145.3,167.5 146.3,167.31 147.3,167.12 148.3,166.9 149.3,166.67 150.3,166.43 151.3,166.16 152.3,165.87 153.3,165.56 154.3,165.23 155.3,164.87 156.3,164.48 157.3,164.06 158.3,163.61 159.3,163.13 160.3,162.62 161.3,162.07 162.3,161.49 163.3,160.86 164.3,160.2 165.3,159.49 165.4,159.42" fill="none" stroke="#0000ff" stroke-width="1.45" stroke-linejoin="round" stroke-linecap="round"/>
<polyline points="97.3,183.84 98.3,183.3 99.3,182.76 100.3,182.23 101.3,181.66 102.3,181.07 103.3,180.49 104.3,179.92 105.3,179.37 106.3,178.86 107.3,178.39 108.3,177.97 109.3,177.61 110.3,177.27 111.3,176.96 112.3,176.67 113.3,176.4 114.3,176.15 115.3,175.91 116.3,175.7 117.3,175.5 118.3,175.31 119.3,175.14 120.3,174.99 121.3,174.84 122.3,174.7 123.3,174.58 124.3,174.46 125.3,174.35 126.3,174.25 127.3,174.16 128.3,174.06 129.3,173.98 130.3,173.89 131.3,173.8 132.3,173.72 133.3,173.63 134.3,173.54 135.3,173.45 136.3,173.36 137.3,173.26 138.3,173.15 139.3,173.03 140.3,172.91 141.3,172.78 142.3,172.64 143.3,172.48 144.3,172.32 145.3,172.13 146.3,171.94 147.3,171.73 148.3,171.5 149.3,171.25 150.3,170.98 151.3,170.7 152.3,170.39 153.3,170.06 154.3,169.71 155.3,169.33 156.3,168.93 157.3,168.5 158.3,168.04 159.3,167.55 160.3,167.04 161.3,166.49 162.3,165.91 163.3,165.3 164.3,164.65 165.2,164.04" fill="none" stroke="#ff0000" stroke-width="1.45" stroke-linejoin="round" stroke-linecap="round"/>
<polyline points="97.3,183.84 98.3,183.3 99.3,182.76 100.3,182.23 101.3,181.69 102.3,181.16 103.3,180.64 104.3,180.16 105.3,179.71 106.3,179.31 107.3,178.98 108.3,178.71 109.3,178.45 110.3,178.18 111.3,177.94 112.3,177.72 113.3,177.52 114.3,177.34 115.3,177.18 116.3,177.04 117.3,176.91 118.3,176.8 119.3,176.7 120.3,176.62 121.3,176.55 122.3,176.49 123.3,176.43 124.3,176.39 125.3,176.35 126.3,176.32 127.3,176.29 128.3,176.26 129.3,176.23 130.3,176.21 131.3,176.18 132.3,176.15 133.3,176.12 134.3,176.08 135.3,176.03 136.3,175.98 137.3,175.91 138.3,175.84 139.3,175.76 140.3,175.66 141.3,175.55 142.3,175.42 143.3,175.28 144.3,175.12 145.3,174.93 146.3,174.73 147.3,174.51 148.3,174.26 149.3,173.99 150.3,173.69 151.3,173.37 152.3,173.02 153.3,172.64 154.3,172.22 155.3,171.78 156.3,171.3 157.3,170.79 158.3,170.24 159.3,169.65 160.3,169.03 161.3,168.36 162.3,167.66 163.3,166.91 164.3,166.12 165.2,165.37" fill="none" stroke="#008000" stroke-width="1.45" stroke-linejoin="round" stroke-linecap="round"/>
<polyline points="97.3,183.84 98.3,183.3 99.3,182.76 100.3,182.23 101.3,181.68 102.3,181.11 103.3,180.56 104.3,180.04 105.3,179.55 106.3,179.11 107.3,178.73 108.3,178.42 109.3,178.15 110.3,177.88 111.3,177.63 112.3,177.41 113.3,177.21 114.3,177.03 115.3,176.87 116.3,176.72 117.3,176.59 118.3,176.47 119.3,176.36 120.3,176.27 121.3,176.18 122.3,176.1 123.3,176.02 124.3,175.94 125.3,175.87 126.3,175.79 127.3,175.72 128.3,175.63 129.3,175.54 130.3,175.45 131.3,175.34 132.3,175.23 133.3,175.1 134.3,174.95 135.3,174.79 136.3,174.62 137.3,174.42 138.3,174.21 139.3,173.99 140.3,173.74 141.3,173.48 142.3,173.19 143.3,172.89 144.3,172.57 145.3,172.23 146.3,171.88 147.3,171.5 148.3,171.1 149.3,170.69 150.3,170.25 151.3,169.79 152.3,169.32 153.3,168.82 154.3,168.3 155.3,167.76 156.3,167.19 157.3,166.61 158.3,166 159.3,165.37 160.3,164.72 161.3,164.05 162.3,163.35 163.3,162.63 164.3,161.88 165.2,161.19" fill="none" stroke="#800080" stroke-width="1.45" stroke-linejoin="round" stroke-linecap="round"/>
<polyline points="59.3,218.85 60.3,217.32 61.3,215.84 62.3,214.4 63.3,213.01 64.3,211.66 65.3,210.35 66.3,209.07 67.3,207.84 68.3,206.65 69.3,205.49 70.3,204.37 71.3,203.28 72.3,202.23 73.3,201.21 74.3,200.22 75.3,199.27 76.3,198.34 77.3,197.44 78.3,196.57 79.3,195.72 80.3,194.9 81.3,194.11 82.3,193.34 83.3,192.59 84.3,191.86 85.3,191.15 86.3,190.46 87.3,189.79 88.3,189.14 89.3,188.5 90.3,187.88 91.3,187.27 92.3,186.67 93.3,186.09 94.3,185.51 95.3,184.95 96.3,184.39 97.3,183.84 98.3,183.3 99.3,182.76 100.3,182.23 101.3,181.7 102.3,181.18 103.3,180.65 104.3,180.13 105.3,179.6 106.3,179.08 107.3,178.56 108.3,178.03 109.3,177.51 110.3,176.99 111.3,176.47 112.3,175.94 113.3,175.42 114.3,174.89 115.3,174.37 116.3,173.84 117.3,173.32 118.3,172.79 119.3,172.26 120.3,171.74 121.3,171.21 122.3,170.67 123.3,170.14 124.3,169.61 125.3,169.07 126.3,168.54 127.3,168 128.3,167.46 129.3,166.91 130.3,166.37 131.3,165.82 132.3,165.28 133.3,164.72 134.3,164.17 135.3,163.61 136.3,163.06 137.3,162.49 138.3,161.93 139.3,161.36 140.3,160.79 141.3,160.22 142.3,159.64 143.3,159.07 144.3,158.48 145.3,157.9 146.3,157.31 147.3,156.71 148.3,156.11 149.3,155.51 150.3,154.91 151.3,154.3 152.3,153.68 153.3,153.07 154.3,152.44 155.3,151.82 156.3,151.18 157.3,150.55 158.3,149.91 159.3,149.26 160.3,148.61 161.3,147.95 162.3,147.29 163.3,146.63 164.3,145.95 165.3,145.28 165.4,145.21" fill="none" stroke="#ff8c00" stroke-width="1.45" stroke-linejoin="round" stroke-linecap="round"/>
</g>
<g clip-path="url(#clipf)">
<circle cx="211.16" cy="244.54" r="0.75" fill="#ff8c00" opacity="0.9"/><circle cx="218.4" cy="235.35" r="0.75" fill="#ff8c00" opacity="0.9"/><circle cx="222.63" cy="229.97" r="0.75" fill="#ff8c00" opacity="0.9"/><circle cx="225.64" cy="226.16" r="0.75" fill="#ff8c00" opacity="0.9"/><circle cx="227.97" cy="223.2" r="0.75" fill="#ff8c00" opacity="0.9"/><circle cx="229.87" cy="220.78" r="0.75" fill="#ff8c00" opacity="0.9"/>
<polyline points="229.87,220.78 232.7,217.09" fill="none" stroke="#ff8c00" stroke-width="0.8" stroke-linejoin="round" stroke-linecap="round" opacity="0.7"/>
<polyline points="253.7,195.4 254.7,194.62 255.7,193.86 256.7,193.12 257.7,192.38 258.7,191.64 259.7,190.9 260.7,190.16 261.7,189.42 262.7,188.68 263.7,187.93 264.7,187.17 265.7,186.46 266.7,185.78 267.7,185.1 268.7,184.43 269.7,183.77 270.7,183.11 271.7,182.45 272.7,181.8 273.7,181.15 274.7,180.5 275.7,179.86 276.7,179.22 277.7,178.57 278.7,177.94 279.7,177.3 280.7,176.67 281.7,176.03 282.7,175.4 283.7,174.78 284.7,174.15 285.7,173.52 286.7,172.9 287.7,172.28 288.7,171.66 289.7,171.04 290.7,170.42 291.7,169.81 292.7,169.19 293.7,168.58 294.7,167.97 295.7,167.36 296.7,166.75 297.7,166.14 298.7,165.53 299.7,164.92 300.7,164.32 301.7,163.71 302.7,163.11 303.7,162.5 304.7,161.9 305.7,161.3 306.7,160.69 307.7,160.09 308.7,159.49 309.7,158.89 310.7,158.28 311.7,157.68 312.7,157.08 313.7,156.48 314.7,155.88 315.7,155.27 316.7,154.67 317.7,154.07 318.7,153.47 319.7,152.86 320.7,152.26 321.7,151.65 322.7,151.05 323.7,150.44 324.7,149.84 325.7,149.23 326.7,148.62 327.7,148.01 328.7,147.4 329.7,146.79 330.7,146.18 331.7,145.57 332.7,144.95 333.7,144.33 334.7,143.72 335.7,143.1 336.7,142.48 337.7,141.86 338.5,141.36" fill="none" stroke="#000000" stroke-width="1.45" stroke-linejoin="round" stroke-linecap="round"/>
<polyline points="253.7,195.4 254.7,194.62 255.7,193.86 256.7,193.12 257.7,192.39 258.7,191.67 259.7,190.95 260.7,190.24 261.7,189.53 262.7,188.82 263.7,188.12 264.7,187.41 265.7,186.74 266.7,186.08 267.7,185.44 268.7,184.79 269.7,184.16 270.7,183.53 271.7,182.9 272.7,182.28 273.7,181.66 274.7,181.04 275.7,180.43 276.7,179.82 277.7,179.21 278.7,178.6 279.7,178 280.7,177.4 281.7,176.8 282.7,176.2 283.7,175.6 284.7,175.01 285.7,174.41 286.7,173.82 287.7,173.23 288.7,172.64 289.7,172.06 290.7,171.47 291.7,170.88 292.7,170.3 293.7,169.72 294.7,169.13 295.7,168.55 296.7,167.97 297.7,167.39 298.7,166.81 299.7,166.22 300.7,165.64 301.7,165.06 302.7,164.48 303.7,163.9 304.7,163.31 305.7,162.73 306.7,162.15 307.7,161.56 308.7,160.98 309.7,160.39 310.7,159.81 311.7,159.22 312.7,158.63 313.7,158.04 314.7,157.44 315.7,156.85 316.7,156.25 317.7,155.66 318.7,155.06 319.7,154.46 320.7,153.85 321.7,153.25 322.7,152.64 323.7,152.03 324.7,151.42 325.7,150.8 326.7,150.18 327.7,149.56 328.7,148.94 329.7,148.31 330.7,147.68 331.7,147.04 332.7,146.41 333.7,145.77 334.7,145.12 335.7,144.47 336.7,143.82 337.7,143.17 338.5,142.64" fill="none" stroke="#0000ff" stroke-width="1.45" stroke-linejoin="round" stroke-linecap="round"/>
<polyline points="253.7,195.4 254.7,194.62 255.7,193.86 256.7,193.12 257.7,192.4 258.7,191.69 259.7,191 260.7,190.33 261.7,189.68 262.7,189.04 263.7,188.41 264.7,187.8 265.7,187.2 266.7,186.59 267.7,186 268.7,185.41 269.7,184.82 270.7,184.25 271.7,183.67 272.7,183.1 273.7,182.53 274.7,181.97 275.7,181.41 276.7,180.84 277.7,180.28 278.7,179.73 279.7,179.17 280.7,178.62 281.7,178.06 282.7,177.51 283.7,176.96 284.7,176.41 285.7,175.86 286.7,175.31 287.7,174.76 288.7,174.22 289.7,173.67 290.7,173.12 291.7,172.57 292.7,172.03 293.7,171.48 294.7,170.93 295.7,170.38 296.7,169.83 297.7,169.28 298.7,168.73 299.7,168.18 300.7,167.63 301.7,167.07 302.7,166.52 303.7,165.96 304.7,165.4 305.7,164.84 306.7,164.28 307.7,163.72 308.7,163.15 309.7,162.58 310.7,162.01 311.7,161.44 312.7,160.86 313.7,160.28 314.7,159.7 315.7,159.11 316.7,158.52 317.7,157.93 318.7,157.34 319.7,156.74 320.7,156.13 321.7,155.53 322.7,154.92 323.7,154.3 324.7,153.68 325.7,153.06 326.7,152.43 327.7,151.8 328.7,151.16 329.7,150.52 330.7,149.88 331.7,149.22 332.7,148.57 333.7,147.9 334.7,147.23 335.7,146.56 336.7,145.88 337.7,145.2 338.5,144.64" fill="none" stroke="#ff0000" stroke-width="1.45" stroke-linejoin="round" stroke-linecap="round"/>
<polyline points="253.7,195.4 254.7,194.62 255.7,193.86 256.7,193.12 257.7,192.4 258.7,191.7 259.7,191.04 260.7,190.41 261.7,189.82 262.7,189.25 263.7,188.72 264.7,188.21 265.7,187.69 266.7,187.15 267.7,186.62 268.7,186.09 269.7,185.57 270.7,185.06 271.7,184.54 272.7,184.03 273.7,183.52 274.7,183.01 275.7,182.51 276.7,182 277.7,181.49 278.7,180.98 279.7,180.47 280.7,179.96 281.7,179.44 282.7,178.93 283.7,178.42 284.7,177.91 285.7,177.39 286.7,176.88 287.7,176.36 288.7,175.84 289.7,175.33 290.7,174.81 291.7,174.29 292.7,173.76 293.7,173.24 294.7,172.71 295.7,172.18 296.7,171.66 297.7,171.12 298.7,170.59 299.7,170.05 300.7,169.52 301.7,168.98 302.7,168.43 303.7,167.89 304.7,167.34 305.7,166.79 306.7,166.24 307.7,165.68 308.7,165.12 309.7,164.56 310.7,163.99 311.7,163.43 312.7,162.85 313.7,162.28 314.7,161.7 315.7,161.12 316.7,160.53 317.7,159.94 318.7,159.35 319.7,158.75 320.7,158.15 321.7,157.55 322.7,156.94 323.7,156.32 324.7,155.7 325.7,155.08 326.7,154.45 327.7,153.82 328.7,153.18 329.7,152.54 330.7,151.89 331.7,151.24 332.7,150.59 333.7,149.92 334.7,149.26 335.7,148.58 336.7,147.91 337.7,147.22 338.5,146.67" fill="none" stroke="#008000" stroke-width="1.45" stroke-linejoin="round" stroke-linecap="round"/>
<polyline points="253.7,195.4 254.7,194.62 255.7,193.86 256.7,193.12 257.7,192.4 258.7,191.7 259.7,191.02 260.7,190.37 261.7,189.74 262.7,189.13 263.7,188.55 264.7,187.98 265.7,187.41 266.7,186.83 267.7,186.26 268.7,185.7 269.7,185.14 270.7,184.59 271.7,184.04 272.7,183.49 273.7,182.95 274.7,182.41 275.7,181.87 276.7,181.33 277.7,180.79 278.7,180.26 279.7,179.72 280.7,179.19 281.7,178.65 282.7,178.12 283.7,177.59 284.7,177.05 285.7,176.52 286.7,175.99 287.7,175.46 288.7,174.92 289.7,174.39 290.7,173.86 291.7,173.33 292.7,172.79 293.7,172.26 294.7,171.72 295.7,171.18 296.7,170.64 297.7,170.11 298.7,169.56 299.7,169.02 300.7,168.48 301.7,167.93 302.7,167.39 303.7,166.84 304.7,166.28 305.7,165.73 306.7,165.17 307.7,164.62 308.7,164.05 309.7,163.49 310.7,162.92 311.7,162.35 312.7,161.78 313.7,161.2 314.7,160.62 315.7,160.04 316.7,159.45 317.7,158.86 318.7,158.27 319.7,157.67 320.7,157.07 321.7,156.46 322.7,155.85 323.7,155.24 324.7,154.62 325.7,153.99 326.7,153.36 327.7,152.73 328.7,152.09 329.7,151.45 330.7,150.8 331.7,150.14 332.7,149.48 333.7,148.82 334.7,148.14 335.7,147.46 336.7,146.78 337.7,146.09 338.5,145.53" fill="none" stroke="#800080" stroke-width="1.45" stroke-linejoin="round" stroke-linecap="round"/>
<polyline points="232.7,217.09 233.7,215.77 234.7,214.48 235.7,213.22 236.7,212 237.7,210.8 238.7,209.64 239.7,208.51 240.7,207.41 241.7,206.34 242.7,205.29 243.7,204.28 244.7,203.28 245.7,202.32 246.7,201.37 247.7,200.45 248.7,199.56 249.7,198.69 250.7,197.83 251.7,197 252.7,196.19 253.7,195.4 254.7,194.62 255.7,193.86 256.7,193.12 257.7,192.4 258.7,191.69 259.7,190.99 260.7,190.31 261.7,189.64 262.7,188.98 263.7,188.33 264.7,187.69 265.7,187.06 266.7,186.44 267.7,185.83 268.7,185.22 269.7,184.62 270.7,184.03 271.7,183.44 272.7,182.85 273.7,182.27 274.7,181.69 275.7,181.11 276.7,180.54 277.7,179.96 278.7,179.39 279.7,178.82 280.7,178.25 281.7,177.69 282.7,177.12 283.7,176.56 284.7,176 285.7,175.43 286.7,174.87 287.7,174.31 288.7,173.76 289.7,173.2 290.7,172.64 291.7,172.08 292.7,171.53 293.7,170.97 294.7,170.41 295.7,169.85 296.7,169.3 297.7,168.74 298.7,168.18 299.7,167.62 300.7,167.06 301.7,166.5 302.7,165.94 303.7,165.37 304.7,164.81 305.7,164.24 306.7,163.68 307.7,163.11 308.7,162.54 309.7,161.96 310.7,161.39 311.7,160.81 312.7,160.23 313.7,159.65 314.7,159.06 315.7,158.48 316.7,157.89 317.7,157.29 318.7,156.7 319.7,156.1 320.7,155.49 321.7,154.89 322.7,154.28 323.7,153.66 324.7,153.05 325.7,152.43 326.7,151.8 327.7,151.17 328.7,150.54 329.7,149.9 330.7,149.25 331.7,148.61 332.7,147.95 333.7,147.29 334.7,146.63 335.7,145.96 336.7,145.29 337.7,144.61 338.5,144.06" fill="none" stroke="#ff8c00" stroke-width="1.45" stroke-linejoin="round" stroke-linecap="round"/>
</g>
<line x1="37.2" y1="102.4" x2="55.4" y2="79.1" stroke="#ff0000" stroke-width="1.15" stroke-dasharray="2.6,1.6"/>
<line x1="132.8" y1="22.2" x2="157.2" y2="7" stroke="#ff0000" stroke-width="1.15" stroke-dasharray="2.6,1.6"/>
<line x1="210.4" y1="101.9" x2="228.6" y2="79" stroke="#ff0000" stroke-width="1.15" stroke-dasharray="2.6,1.6"/>
<line x1="306.2" y1="20.4" x2="330" y2="6" stroke="#ff0000" stroke-width="1.15" stroke-dasharray="2.6,1.6"/>
<line x1="38.6" y1="238.4" x2="56.9" y2="215.4" stroke="#ff0000" stroke-width="1.15" stroke-dasharray="2.6,1.6"/>
<line x1="134.5" y1="156.4" x2="158.5" y2="141" stroke="#ff0000" stroke-width="1.15" stroke-dasharray="2.6,1.6"/>
<line x1="211.1" y1="238.8" x2="229.4" y2="214.3" stroke="#ff0000" stroke-width="1.15" stroke-dasharray="2.6,1.6"/>
<line x1="307.6" y1="157.3" x2="331.6" y2="142.2" stroke="#ff0000" stroke-width="1.15" stroke-dasharray="2.6,1.6"/>
<text transform="translate(44.26,84.96) scale(1.12,1)" font-family='"Liberation Sans", sans-serif' font-style="italic" font-size="8.6" fill="#000000" stroke="#000000" stroke-width="0.25">t</text><text x="48.2" y="81.6" font-family='"Liberation Sans", sans-serif' font-size="5.8" fill="#000000">2</text>
<text transform="translate(144.86,11.16) scale(1.12,1)" font-family='"Liberation Sans", sans-serif' font-style="italic" font-size="8.6" fill="#000000" stroke="#000000" stroke-width="0.25">t</text><text x="148.8" y="7.8" font-family='"Liberation Sans", sans-serif' font-size="5.8" fill="#000000">1</text>
<text transform="translate(217.76,84.56) scale(1.12,1)" font-family='"Liberation Sans", sans-serif' font-style="italic" font-size="8.6" fill="#000000" stroke="#000000" stroke-width="0.25">t</text><text x="221.7" y="81.2" font-family='"Liberation Sans", sans-serif' font-size="5.8" fill="#000000">2</text>
<text transform="translate(317.36,8.96) scale(1.12,1)" font-family='"Liberation Sans", sans-serif' font-style="italic" font-size="8.6" fill="#000000" stroke="#000000" stroke-width="0.25">t</text><text x="321.3" y="5.6" font-family='"Liberation Sans", sans-serif' font-size="5.8" fill="#000000">1</text>
<text transform="translate(45.26,220.16) scale(1.12,1)" font-family='"Liberation Sans", sans-serif' font-style="italic" font-size="8.6" fill="#000000" stroke="#000000" stroke-width="0.25">t</text><text x="49.2" y="216.8" font-family='"Liberation Sans", sans-serif' font-size="5.8" fill="#000000">2</text>
<text transform="translate(145.36,145.36) scale(1.12,1)" font-family='"Liberation Sans", sans-serif' font-style="italic" font-size="8.6" fill="#000000" stroke="#000000" stroke-width="0.25">t</text><text x="149.3" y="142" font-family='"Liberation Sans", sans-serif' font-size="5.8" fill="#000000">1</text>
<text transform="translate(218.16,220.76) scale(1.12,1)" font-family='"Liberation Sans", sans-serif' font-style="italic" font-size="8.6" fill="#000000" stroke="#000000" stroke-width="0.25">t</text><text x="222.1" y="217.4" font-family='"Liberation Sans", sans-serif' font-size="5.8" fill="#000000">2</text>
<text transform="translate(318.56,146.56) scale(1.12,1)" font-family='"Liberation Sans", sans-serif' font-style="italic" font-size="8.6" fill="#000000" stroke="#000000" stroke-width="0.25">t</text><text x="322.5" y="143.2" font-family='"Liberation Sans", sans-serif' font-size="5.8" fill="#000000">1</text>
<g clip-path="url(#clipc)">
<polyline points="378.8,7.8 383.8,11.1 388.2,13.3 391,16.1 392.7,20 396,22.8 401,25 402.7,28.3 404,33.4 405.8,42.4 408,51.6 410.2,60.5 412.4,69.3 415.8,76 420.2,80.5 426.9,83.8 431.8,85.9 436.7,88.2 441,91 445.5,93 452.4,93.6 457.9,94.5 464.5,104.5 469.5,97.5 471.6,98 479.8,98.6 486.6,93.2 490.8,91.8 494.9,92 497.5,95 499.7,94.5 505.8,95.5" fill="none" stroke="#000000" stroke-width="1.05" stroke-linejoin="round" stroke-linecap="round"/>
<circle cx="383.8" cy="11.1" r="0.72" fill="#000000"/><circle cx="388.2" cy="13.3" r="0.72" fill="#000000"/><circle cx="391" cy="16.1" r="0.72" fill="#000000"/><circle cx="392.7" cy="20" r="0.72" fill="#000000"/><circle cx="396" cy="22.8" r="0.72" fill="#000000"/><circle cx="401" cy="25" r="0.72" fill="#000000"/><circle cx="402.7" cy="28.3" r="0.72" fill="#000000"/><circle cx="404" cy="33.4" r="0.72" fill="#000000"/><circle cx="405.8" cy="42.4" r="0.72" fill="#000000"/><circle cx="408" cy="51.6" r="0.72" fill="#000000"/><circle cx="410.2" cy="60.5" r="0.72" fill="#000000"/><circle cx="412.4" cy="69.3" r="0.72" fill="#000000"/><circle cx="415.8" cy="76" r="0.72" fill="#000000"/><circle cx="420.2" cy="80.5" r="0.72" fill="#000000"/><circle cx="426.9" cy="83.8" r="0.72" fill="#000000"/><circle cx="431.8" cy="85.9" r="0.72" fill="#000000"/><circle cx="436.7" cy="88.2" r="0.72" fill="#000000"/><circle cx="441" cy="91" r="0.72" fill="#000000"/><circle cx="445.5" cy="93" r="0.72" fill="#000000"/><circle cx="452.4" cy="93.6" r="0.72" fill="#000000"/><circle cx="457.9" cy="94.5" r="0.72" fill="#000000"/><circle cx="464.5" cy="104.5" r="0.72" fill="#000000"/><circle cx="469.5" cy="97.5" r="0.72" fill="#000000"/><circle cx="471.6" cy="98" r="0.72" fill="#000000"/><circle cx="479.8" cy="98.6" r="0.72" fill="#000000"/><circle cx="486.6" cy="93.2" r="0.72" fill="#000000"/><circle cx="490.8" cy="91.8" r="0.72" fill="#000000"/><circle cx="494.9" cy="92" r="0.72" fill="#000000"/><circle cx="497.5" cy="95" r="0.72" fill="#000000"/><circle cx="499.7" cy="94.5" r="0.72" fill="#000000"/><circle cx="505.8" cy="95.5" r="0.72" fill="#000000"/>
<polyline points="378.8,8.65 383.8,11.95 388.2,14.15 391,16.95 392.7,20.85 396,23.65 401,25.85 402.7,29.15 404,34.25 405.8,43.25 408,52.45 410.2,61.35 412.4,70.15 415.8,76.85 420.2,81.35 426.9,84.65 431.8,86.75 436.7,89.05 442.1,89.4 445.5,92.8 452.4,92.8 457.9,94 464.5,105.5 464.5,106 469.5,97 471.6,98.3 479.8,99 486.6,93.5 490.8,92.1 494.9,92.1 497.5,95.5 499.7,94.9 505.8,95.5" fill="none" stroke="#0000ff" stroke-width="1.05" stroke-linejoin="round" stroke-linecap="round"/>
<circle cx="383.8" cy="11.95" r="0.72" fill="#0000ff"/><circle cx="388.2" cy="14.15" r="0.72" fill="#0000ff"/><circle cx="391" cy="16.95" r="0.72" fill="#0000ff"/><circle cx="392.7" cy="20.85" r="0.72" fill="#0000ff"/><circle cx="396" cy="23.65" r="0.72" fill="#0000ff"/><circle cx="401" cy="25.85" r="0.72" fill="#0000ff"/><circle cx="402.7" cy="29.15" r="0.72" fill="#0000ff"/><circle cx="404" cy="34.25" r="0.72" fill="#0000ff"/><circle cx="405.8" cy="43.25" r="0.72" fill="#0000ff"/><circle cx="408" cy="52.45" r="0.72" fill="#0000ff"/><circle cx="410.2" cy="61.35" r="0.72" fill="#0000ff"/><circle cx="412.4" cy="70.15" r="0.72" fill="#0000ff"/><circle cx="415.8" cy="76.85" r="0.72" fill="#0000ff"/><circle cx="420.2" cy="81.35" r="0.72" fill="#0000ff"/><circle cx="426.9" cy="84.65" r="0.72" fill="#0000ff"/><circle cx="431.8" cy="86.75" r="0.72" fill="#0000ff"/><circle cx="436.7" cy="89.05" r="0.72" fill="#0000ff"/><circle cx="442.1" cy="89.4" r="0.72" fill="#0000ff"/><circle cx="445.5" cy="92.8" r="0.72" fill="#0000ff"/><circle cx="452.4" cy="92.8" r="0.72" fill="#0000ff"/><circle cx="457.9" cy="94" r="0.72" fill="#0000ff"/><circle cx="464.5" cy="105.5" r="0.72" fill="#0000ff"/><circle cx="464.5" cy="106" r="0.72" fill="#0000ff"/><circle cx="469.5" cy="97" r="0.72" fill="#0000ff"/><circle cx="471.6" cy="98.3" r="0.72" fill="#0000ff"/><circle cx="479.8" cy="99" r="0.72" fill="#0000ff"/><circle cx="486.6" cy="93.5" r="0.72" fill="#0000ff"/><circle cx="490.8" cy="92.1" r="0.72" fill="#0000ff"/><circle cx="494.9" cy="92.1" r="0.72" fill="#0000ff"/><circle cx="497.5" cy="95.5" r="0.72" fill="#0000ff"/><circle cx="499.7" cy="94.9" r="0.72" fill="#0000ff"/><circle cx="505.8" cy="95.5" r="0.72" fill="#0000ff"/>
<polyline points="378.8,8.2 383.8,11.5 388.2,13.7 391,16.5 392.7,20.4 396,23.2 401,25.4 402.7,28.7 404,33.8 405.8,42.8 408,52 410.2,60.9 412.4,69.7 415.8,76.4 420.2,80.9 426.9,84.2 431.8,86.3 436.7,88.6 441.5,91.5 445.5,94.5 452.4,94.5 457.9,95 464.5,104 469.5,94.9 471.6,97.8 479.8,98.5 486.6,93.8 490.8,92.5 494.9,93 497.5,95.5 499.7,94.5 505.8,95.3" fill="none" stroke="#ff0000" stroke-width="1.05" stroke-linejoin="round" stroke-linecap="round"/>
<circle cx="383.8" cy="11.5" r="0.72" fill="#ff0000"/><circle cx="388.2" cy="13.7" r="0.72" fill="#ff0000"/><circle cx="391" cy="16.5" r="0.72" fill="#ff0000"/><circle cx="392.7" cy="20.4" r="0.72" fill="#ff0000"/><circle cx="396" cy="23.2" r="0.72" fill="#ff0000"/><circle cx="401" cy="25.4" r="0.72" fill="#ff0000"/><circle cx="402.7" cy="28.7" r="0.72" fill="#ff0000"/><circle cx="404" cy="33.8" r="0.72" fill="#ff0000"/><circle cx="405.8" cy="42.8" r="0.72" fill="#ff0000"/><circle cx="408" cy="52" r="0.72" fill="#ff0000"/><circle cx="410.2" cy="60.9" r="0.72" fill="#ff0000"/><circle cx="412.4" cy="69.7" r="0.72" fill="#ff0000"/><circle cx="415.8" cy="76.4" r="0.72" fill="#ff0000"/><circle cx="420.2" cy="80.9" r="0.72" fill="#ff0000"/><circle cx="426.9" cy="84.2" r="0.72" fill="#ff0000"/><circle cx="431.8" cy="86.3" r="0.72" fill="#ff0000"/><circle cx="436.7" cy="88.6" r="0.72" fill="#ff0000"/><circle cx="441.5" cy="91.5" r="0.72" fill="#ff0000"/><circle cx="445.5" cy="94.5" r="0.72" fill="#ff0000"/><circle cx="452.4" cy="94.5" r="0.72" fill="#ff0000"/><circle cx="457.9" cy="95" r="0.72" fill="#ff0000"/><circle cx="464.5" cy="104" r="0.72" fill="#ff0000"/><circle cx="469.5" cy="94.9" r="0.72" fill="#ff0000"/><circle cx="471.6" cy="97.8" r="0.72" fill="#ff0000"/><circle cx="479.8" cy="98.5" r="0.72" fill="#ff0000"/><circle cx="486.6" cy="93.8" r="0.72" fill="#ff0000"/><circle cx="490.8" cy="92.5" r="0.72" fill="#ff0000"/><circle cx="494.9" cy="93" r="0.72" fill="#ff0000"/><circle cx="497.5" cy="95.5" r="0.72" fill="#ff0000"/><circle cx="499.7" cy="94.5" r="0.72" fill="#ff0000"/><circle cx="505.8" cy="95.3" r="0.72" fill="#ff0000"/>
<polyline points="378.8,8 383.8,11.3 388.2,13.5 391,16.3 392.7,20.2 396,23 401,25.2 402.7,28.5 404,33.6 405.8,42.6 408,51.8 410.2,60.7 412.4,69.5 415.8,76.2 420.2,80.7 426.9,84 431.8,86.1 436.7,88.4 441,92 444.2,97.4 452.4,96.2 457.9,95.5 464.5,105 469.5,98 471.6,98.7 479.8,99.2 486.6,94 490.8,92.6 494.9,93 497,96.9 499.7,95.3 505.8,95.5" fill="none" stroke="#008000" stroke-width="1.05" stroke-linejoin="round" stroke-linecap="round"/>
<circle cx="383.8" cy="11.3" r="0.72" fill="#008000"/><circle cx="388.2" cy="13.5" r="0.72" fill="#008000"/><circle cx="391" cy="16.3" r="0.72" fill="#008000"/><circle cx="392.7" cy="20.2" r="0.72" fill="#008000"/><circle cx="396" cy="23" r="0.72" fill="#008000"/><circle cx="401" cy="25.2" r="0.72" fill="#008000"/><circle cx="402.7" cy="28.5" r="0.72" fill="#008000"/><circle cx="404" cy="33.6" r="0.72" fill="#008000"/><circle cx="405.8" cy="42.6" r="0.72" fill="#008000"/><circle cx="408" cy="51.8" r="0.72" fill="#008000"/><circle cx="410.2" cy="60.7" r="0.72" fill="#008000"/><circle cx="412.4" cy="69.5" r="0.72" fill="#008000"/><circle cx="415.8" cy="76.2" r="0.72" fill="#008000"/><circle cx="420.2" cy="80.7" r="0.72" fill="#008000"/><circle cx="426.9" cy="84" r="0.72" fill="#008000"/><circle cx="431.8" cy="86.1" r="0.72" fill="#008000"/><circle cx="436.7" cy="88.4" r="0.72" fill="#008000"/><circle cx="441" cy="92" r="0.72" fill="#008000"/><circle cx="444.2" cy="97.4" r="0.72" fill="#008000"/><circle cx="452.4" cy="96.2" r="0.72" fill="#008000"/><circle cx="457.9" cy="95.5" r="0.72" fill="#008000"/><circle cx="464.5" cy="105" r="0.72" fill="#008000"/><circle cx="469.5" cy="98" r="0.72" fill="#008000"/><circle cx="471.6" cy="98.7" r="0.72" fill="#008000"/><circle cx="479.8" cy="99.2" r="0.72" fill="#008000"/><circle cx="486.6" cy="94" r="0.72" fill="#008000"/><circle cx="490.8" cy="92.6" r="0.72" fill="#008000"/><circle cx="494.9" cy="93" r="0.72" fill="#008000"/><circle cx="497" cy="96.9" r="0.72" fill="#008000"/><circle cx="499.7" cy="95.3" r="0.72" fill="#008000"/><circle cx="505.8" cy="95.5" r="0.72" fill="#008000"/>
<polyline points="378.8,8.4 383.8,11.7 388.2,13.9 391,16.7 392.7,20.6 396,23.4 401,25.6 402.7,28.9 404,34 405.8,43 408,52.2 410.2,61.1 412.4,69.9 415.8,76.6 420.2,81.1 426.9,84.4 431.8,86.5 436.7,88.8 442,90.5 445.5,93.8 452.4,94 457.9,95 464.7,107.6 469.5,98 471.6,98 479.8,98.5 486.6,92.6 490.8,91.6 494.9,91.8 497.5,95.2 499.7,94.6 505.8,95.5" fill="none" stroke="#800080" stroke-width="1.05" stroke-linejoin="round" stroke-linecap="round"/>
<circle cx="383.8" cy="11.7" r="0.72" fill="#800080"/><circle cx="388.2" cy="13.9" r="0.72" fill="#800080"/><circle cx="391" cy="16.7" r="0.72" fill="#800080"/><circle cx="392.7" cy="20.6" r="0.72" fill="#800080"/><circle cx="396" cy="23.4" r="0.72" fill="#800080"/><circle cx="401" cy="25.6" r="0.72" fill="#800080"/><circle cx="402.7" cy="28.9" r="0.72" fill="#800080"/><circle cx="404" cy="34" r="0.72" fill="#800080"/><circle cx="405.8" cy="43" r="0.72" fill="#800080"/><circle cx="408" cy="52.2" r="0.72" fill="#800080"/><circle cx="410.2" cy="61.1" r="0.72" fill="#800080"/><circle cx="412.4" cy="69.9" r="0.72" fill="#800080"/><circle cx="415.8" cy="76.6" r="0.72" fill="#800080"/><circle cx="420.2" cy="81.1" r="0.72" fill="#800080"/><circle cx="426.9" cy="84.4" r="0.72" fill="#800080"/><circle cx="431.8" cy="86.5" r="0.72" fill="#800080"/><circle cx="436.7" cy="88.8" r="0.72" fill="#800080"/><circle cx="442" cy="90.5" r="0.72" fill="#800080"/><circle cx="445.5" cy="93.8" r="0.72" fill="#800080"/><circle cx="452.4" cy="94" r="0.72" fill="#800080"/><circle cx="457.9" cy="95" r="0.72" fill="#800080"/><circle cx="464.7" cy="107.6" r="0.72" fill="#800080"/><circle cx="469.5" cy="98" r="0.72" fill="#800080"/><circle cx="471.6" cy="98" r="0.72" fill="#800080"/><circle cx="479.8" cy="98.5" r="0.72" fill="#800080"/><circle cx="486.6" cy="92.6" r="0.72" fill="#800080"/><circle cx="490.8" cy="91.6" r="0.72" fill="#800080"/><circle cx="494.9" cy="91.8" r="0.72" fill="#800080"/><circle cx="497.5" cy="95.2" r="0.72" fill="#800080"/><circle cx="499.7" cy="94.6" r="0.72" fill="#800080"/><circle cx="505.8" cy="95.5" r="0.72" fill="#800080"/>
<polyline points="378.8,7.4 383.8,10.7 388.2,12.9 391,15.7 392.7,19.6 396,22.4 401,24.6 402.7,27.9 404,33 405.8,42 408,51.2 410.2,60.1 412.4,68.9 415.8,75.6 420.2,80.1 426.9,83.4 431.8,85.5 436.7,87.8 439.4,95.3 444,94.6 452.4,95 457.9,95.6 464,104.5 469.5,97.8 471.6,98.8 479.8,99.5 486.6,94.3 490.8,92.9 494.9,93.2 497.5,95.8 499.7,95.3 505.8,95.5" fill="none" stroke="#ff8c00" stroke-width="1.05" stroke-linejoin="round" stroke-linecap="round"/>
<circle cx="383.8" cy="10.7" r="0.72" fill="#ff8c00"/><circle cx="388.2" cy="12.9" r="0.72" fill="#ff8c00"/><circle cx="391" cy="15.7" r="0.72" fill="#ff8c00"/><circle cx="392.7" cy="19.6" r="0.72" fill="#ff8c00"/><circle cx="396" cy="22.4" r="0.72" fill="#ff8c00"/><circle cx="401" cy="24.6" r="0.72" fill="#ff8c00"/><circle cx="402.7" cy="27.9" r="0.72" fill="#ff8c00"/><circle cx="404" cy="33" r="0.72" fill="#ff8c00"/><circle cx="405.8" cy="42" r="0.72" fill="#ff8c00"/><circle cx="408" cy="51.2" r="0.72" fill="#ff8c00"/><circle cx="410.2" cy="60.1" r="0.72" fill="#ff8c00"/><circle cx="412.4" cy="68.9" r="0.72" fill="#ff8c00"/><circle cx="415.8" cy="75.6" r="0.72" fill="#ff8c00"/><circle cx="420.2" cy="80.1" r="0.72" fill="#ff8c00"/><circle cx="426.9" cy="83.4" r="0.72" fill="#ff8c00"/><circle cx="431.8" cy="85.5" r="0.72" fill="#ff8c00"/><circle cx="436.7" cy="87.8" r="0.72" fill="#ff8c00"/><circle cx="439.4" cy="95.3" r="0.72" fill="#ff8c00"/><circle cx="444" cy="94.6" r="0.72" fill="#ff8c00"/><circle cx="452.4" cy="95" r="0.72" fill="#ff8c00"/><circle cx="457.9" cy="95.6" r="0.72" fill="#ff8c00"/><circle cx="464" cy="104.5" r="0.72" fill="#ff8c00"/><circle cx="469.5" cy="97.8" r="0.72" fill="#ff8c00"/><circle cx="471.6" cy="98.8" r="0.72" fill="#ff8c00"/><circle cx="479.8" cy="99.5" r="0.72" fill="#ff8c00"/><circle cx="486.6" cy="94.3" r="0.72" fill="#ff8c00"/><circle cx="490.8" cy="92.9" r="0.72" fill="#ff8c00"/><circle cx="494.9" cy="93.2" r="0.72" fill="#ff8c00"/><circle cx="497.5" cy="95.8" r="0.72" fill="#ff8c00"/><circle cx="499.7" cy="95.3" r="0.72" fill="#ff8c00"/><circle cx="505.8" cy="95.5" r="0.72" fill="#ff8c00"/>
</g>
<g clip-path="url(#clipd)">
<polyline points="550.2,7.5 556.9,9.2 564,11.5 565.8,13.1 570.2,15 573.8,17.4 575.3,20.6 578,25.9 580.7,32.6 583.3,37.9 586.7,42.6 590,46.6 592.4,48.1 599.8,51.1 607.2,53.3 612.4,54.1 616.8,56.8 620,56.7 624.9,56.7 628.9,58.2 632.9,61.8 636.4,66.7 640,60.4 643.1,62 650.7,62.7 655.6,61.3 663.6,60.9 668.4,57.8 676.9,57.2" fill="none" stroke="#000000" stroke-width="1.05" stroke-linejoin="round" stroke-linecap="round"/>
<circle cx="556.9" cy="9.2" r="0.72" fill="#000000"/><circle cx="564" cy="11.5" r="0.72" fill="#000000"/><circle cx="565.8" cy="13.1" r="0.72" fill="#000000"/><circle cx="570.2" cy="15" r="0.72" fill="#000000"/><circle cx="573.8" cy="17.4" r="0.72" fill="#000000"/><circle cx="575.3" cy="20.6" r="0.72" fill="#000000"/><circle cx="578" cy="25.9" r="0.72" fill="#000000"/><circle cx="580.7" cy="32.6" r="0.72" fill="#000000"/><circle cx="583.3" cy="37.9" r="0.72" fill="#000000"/><circle cx="586.7" cy="42.6" r="0.72" fill="#000000"/><circle cx="590" cy="46.6" r="0.72" fill="#000000"/><circle cx="592.4" cy="48.1" r="0.72" fill="#000000"/><circle cx="599.8" cy="51.1" r="0.72" fill="#000000"/><circle cx="607.2" cy="53.3" r="0.72" fill="#000000"/><circle cx="612.4" cy="54.1" r="0.72" fill="#000000"/><circle cx="616.8" cy="56.8" r="0.72" fill="#000000"/><circle cx="620" cy="56.7" r="0.72" fill="#000000"/><circle cx="624.9" cy="56.7" r="0.72" fill="#000000"/><circle cx="628.9" cy="58.2" r="0.72" fill="#000000"/><circle cx="632.9" cy="61.8" r="0.72" fill="#000000"/><circle cx="636.4" cy="66.7" r="0.72" fill="#000000"/><circle cx="640" cy="60.4" r="0.72" fill="#000000"/><circle cx="643.1" cy="62" r="0.72" fill="#000000"/><circle cx="650.7" cy="62.7" r="0.72" fill="#000000"/><circle cx="655.6" cy="61.3" r="0.72" fill="#000000"/><circle cx="663.6" cy="60.9" r="0.72" fill="#000000"/><circle cx="668.4" cy="57.8" r="0.72" fill="#000000"/><circle cx="676.9" cy="57.2" r="0.72" fill="#000000"/>
<polyline points="550.2,8.35 556.9,10.05 564,12.35 565.8,13.95 570.2,15.85 573.8,18.25 575.3,21.45 578,26.75 580.7,33.45 583.3,38.75 586.7,43.45 590,47.45 591,47.6 599.8,51.8 605.7,56.3 610.9,60 616.1,67.4 623.5,70.3 627.5,73.5 629.5,77 632.7,88.7 636.5,98.8 640.4,97.2 646.7,97 650.6,95.6 658.3,90 663.9,82.2 667.2,75.6 676.9,57.2" fill="none" stroke="#0000ff" stroke-width="1.05" stroke-linejoin="round" stroke-linecap="round"/>
<circle cx="556.9" cy="10.05" r="0.72" fill="#0000ff"/><circle cx="564" cy="12.35" r="0.72" fill="#0000ff"/><circle cx="565.8" cy="13.95" r="0.72" fill="#0000ff"/><circle cx="570.2" cy="15.85" r="0.72" fill="#0000ff"/><circle cx="573.8" cy="18.25" r="0.72" fill="#0000ff"/><circle cx="575.3" cy="21.45" r="0.72" fill="#0000ff"/><circle cx="578" cy="26.75" r="0.72" fill="#0000ff"/><circle cx="580.7" cy="33.45" r="0.72" fill="#0000ff"/><circle cx="583.3" cy="38.75" r="0.72" fill="#0000ff"/><circle cx="586.7" cy="43.45" r="0.72" fill="#0000ff"/><circle cx="590" cy="47.45" r="0.72" fill="#0000ff"/><circle cx="591" cy="47.6" r="0.72" fill="#0000ff"/><circle cx="599.8" cy="51.8" r="0.72" fill="#0000ff"/><circle cx="605.7" cy="56.3" r="0.72" fill="#0000ff"/><circle cx="610.9" cy="60" r="0.72" fill="#0000ff"/><circle cx="616.1" cy="67.4" r="0.72" fill="#0000ff"/><circle cx="623.5" cy="70.3" r="0.72" fill="#0000ff"/><circle cx="627.5" cy="73.5" r="0.72" fill="#0000ff"/><circle cx="629.5" cy="77" r="0.72" fill="#0000ff"/><circle cx="632.7" cy="88.7" r="0.72" fill="#0000ff"/><circle cx="636.5" cy="98.8" r="0.72" fill="#0000ff"/><circle cx="640.4" cy="97.2" r="0.72" fill="#0000ff"/><circle cx="646.7" cy="97" r="0.72" fill="#0000ff"/><circle cx="650.6" cy="95.6" r="0.72" fill="#0000ff"/><circle cx="658.3" cy="90" r="0.72" fill="#0000ff"/><circle cx="663.9" cy="82.2" r="0.72" fill="#0000ff"/><circle cx="667.2" cy="75.6" r="0.72" fill="#0000ff"/><circle cx="676.9" cy="57.2" r="0.72" fill="#0000ff"/>
<polyline points="550.2,7.9 556.9,9.6 564,11.9 565.8,13.5 570.2,15.4 573.8,17.8 575.3,21 578,26.3 580.7,33 583.3,38.3 586.7,43 590,47 590.5,47.6 599.8,52.4 607.2,59.2 614,73.1 624.1,82.4 628.8,91.8 633.4,101.1 637.3,103.4 641.2,101.9 645.1,99.5 650.6,97.8 658.3,93.3 666.1,85.6 671.7,72.2 676.9,57.2" fill="none" stroke="#ff0000" stroke-width="1.05" stroke-linejoin="round" stroke-linecap="round"/>
<circle cx="556.9" cy="9.6" r="0.72" fill="#ff0000"/><circle cx="564" cy="11.9" r="0.72" fill="#ff0000"/><circle cx="565.8" cy="13.5" r="0.72" fill="#ff0000"/><circle cx="570.2" cy="15.4" r="0.72" fill="#ff0000"/><circle cx="573.8" cy="17.8" r="0.72" fill="#ff0000"/><circle cx="575.3" cy="21" r="0.72" fill="#ff0000"/><circle cx="578" cy="26.3" r="0.72" fill="#ff0000"/><circle cx="580.7" cy="33" r="0.72" fill="#ff0000"/><circle cx="583.3" cy="38.3" r="0.72" fill="#ff0000"/><circle cx="586.7" cy="43" r="0.72" fill="#ff0000"/><circle cx="590" cy="47" r="0.72" fill="#ff0000"/><circle cx="590.5" cy="47.6" r="0.72" fill="#ff0000"/><circle cx="599.8" cy="52.4" r="0.72" fill="#ff0000"/><circle cx="607.2" cy="59.2" r="0.72" fill="#ff0000"/><circle cx="614" cy="73.1" r="0.72" fill="#ff0000"/><circle cx="624.1" cy="82.4" r="0.72" fill="#ff0000"/><circle cx="628.8" cy="91.8" r="0.72" fill="#ff0000"/><circle cx="633.4" cy="101.1" r="0.72" fill="#ff0000"/><circle cx="637.3" cy="103.4" r="0.72" fill="#ff0000"/><circle cx="641.2" cy="101.9" r="0.72" fill="#ff0000"/><circle cx="645.1" cy="99.5" r="0.72" fill="#ff0000"/><circle cx="650.6" cy="97.8" r="0.72" fill="#ff0000"/><circle cx="658.3" cy="93.3" r="0.72" fill="#ff0000"/><circle cx="666.1" cy="85.6" r="0.72" fill="#ff0000"/><circle cx="671.7" cy="72.2" r="0.72" fill="#ff0000"/><circle cx="676.9" cy="57.2" r="0.72" fill="#ff0000"/>
<polyline points="550.2,7.7 556.9,9.4 564,11.7 565.8,13.3 570.2,15.2 573.8,17.6 575.3,20.8 578,26.1 580.7,32.8 583.3,38.1 586.7,42.8 590,46.8 590.5,47.9 599.8,53 607.2,60.7 612.4,71.1 616.3,84.8 623.3,89.4 628.8,98 635,108.1 640.4,105.8 645.1,101.1 650.6,96.7 658.3,92.2 666.1,83.3 670.6,72.2 676.9,57.2" fill="none" stroke="#008000" stroke-width="1.05" stroke-linejoin="round" stroke-linecap="round"/>
<circle cx="556.9" cy="9.4" r="0.72" fill="#008000"/><circle cx="564" cy="11.7" r="0.72" fill="#008000"/><circle cx="565.8" cy="13.3" r="0.72" fill="#008000"/><circle cx="570.2" cy="15.2" r="0.72" fill="#008000"/><circle cx="573.8" cy="17.6" r="0.72" fill="#008000"/><circle cx="575.3" cy="20.8" r="0.72" fill="#008000"/><circle cx="578" cy="26.1" r="0.72" fill="#008000"/><circle cx="580.7" cy="32.8" r="0.72" fill="#008000"/><circle cx="583.3" cy="38.1" r="0.72" fill="#008000"/><circle cx="586.7" cy="42.8" r="0.72" fill="#008000"/><circle cx="590" cy="46.8" r="0.72" fill="#008000"/><circle cx="590.5" cy="47.9" r="0.72" fill="#008000"/><circle cx="599.8" cy="53" r="0.72" fill="#008000"/><circle cx="607.2" cy="60.7" r="0.72" fill="#008000"/><circle cx="612.4" cy="71.1" r="0.72" fill="#008000"/><circle cx="616.3" cy="84.8" r="0.72" fill="#008000"/><circle cx="623.3" cy="89.4" r="0.72" fill="#008000"/><circle cx="628.8" cy="98" r="0.72" fill="#008000"/><circle cx="635" cy="108.1" r="0.72" fill="#008000"/><circle cx="640.4" cy="105.8" r="0.72" fill="#008000"/><circle cx="645.1" cy="101.1" r="0.72" fill="#008000"/><circle cx="650.6" cy="96.7" r="0.72" fill="#008000"/><circle cx="658.3" cy="92.2" r="0.72" fill="#008000"/><circle cx="666.1" cy="83.3" r="0.72" fill="#008000"/><circle cx="670.6" cy="72.2" r="0.72" fill="#008000"/><circle cx="676.9" cy="57.2" r="0.72" fill="#008000"/>
<polyline points="550.2,8.1 556.9,9.8 564,12.1 565.8,13.7 570.2,15.6 573.8,18 575.3,21.2 578,26.5 580.7,33.2 583.3,38.5 586.7,43.2 590,47.2 590.5,48.2 599.8,54 605.7,62.2 611.6,74 616.3,84 623.3,88.7 628,95.7 632.7,101.9 637.3,102.7 641.2,99.5 642.8,88.9 650.6,85.6 658.3,80 661.7,73.3 665,72.2 668.3,64.4 676.9,57.2" fill="none" stroke="#800080" stroke-width="1.05" stroke-linejoin="round" stroke-linecap="round"/>
<circle cx="556.9" cy="9.8" r="0.72" fill="#800080"/><circle cx="564" cy="12.1" r="0.72" fill="#800080"/><circle cx="565.8" cy="13.7" r="0.72" fill="#800080"/><circle cx="570.2" cy="15.6" r="0.72" fill="#800080"/><circle cx="573.8" cy="18" r="0.72" fill="#800080"/><circle cx="575.3" cy="21.2" r="0.72" fill="#800080"/><circle cx="578" cy="26.5" r="0.72" fill="#800080"/><circle cx="580.7" cy="33.2" r="0.72" fill="#800080"/><circle cx="583.3" cy="38.5" r="0.72" fill="#800080"/><circle cx="586.7" cy="43.2" r="0.72" fill="#800080"/><circle cx="590" cy="47.2" r="0.72" fill="#800080"/><circle cx="590.5" cy="48.2" r="0.72" fill="#800080"/><circle cx="599.8" cy="54" r="0.72" fill="#800080"/><circle cx="605.7" cy="62.2" r="0.72" fill="#800080"/><circle cx="611.6" cy="74" r="0.72" fill="#800080"/><circle cx="616.3" cy="84" r="0.72" fill="#800080"/><circle cx="623.3" cy="88.7" r="0.72" fill="#800080"/><circle cx="628" cy="95.7" r="0.72" fill="#800080"/><circle cx="632.7" cy="101.9" r="0.72" fill="#800080"/><circle cx="637.3" cy="102.7" r="0.72" fill="#800080"/><circle cx="641.2" cy="99.5" r="0.72" fill="#800080"/><circle cx="642.8" cy="88.9" r="0.72" fill="#800080"/><circle cx="650.6" cy="85.6" r="0.72" fill="#800080"/><circle cx="658.3" cy="80" r="0.72" fill="#800080"/><circle cx="661.7" cy="73.3" r="0.72" fill="#800080"/><circle cx="665" cy="72.2" r="0.72" fill="#800080"/><circle cx="668.3" cy="64.4" r="0.72" fill="#800080"/><circle cx="676.9" cy="57.2" r="0.72" fill="#800080"/>
<polyline points="550.2,7.1 556.9,8.8 564,11.1 565.8,12.7 570.2,14.6 573.8,17 575.3,20.2 578,25.5 580.7,32.2 583.3,37.5 586.7,42.2 590,46.2 590.9,47.4 599.8,52.6 604.2,60.7 608.7,69.6 613.1,74.8 616.1,74.2 622.7,71.6 628.9,67.1 633.3,66.7 636.9,65.8 640.4,60.4 646.7,60.4 651.1,60 655.6,60.4 659.1,59.1 664.4,59.1 668,59.1 676.9,57.2" fill="none" stroke="#ff8c00" stroke-width="1.05" stroke-linejoin="round" stroke-linecap="round"/>
<circle cx="556.9" cy="8.8" r="0.72" fill="#ff8c00"/><circle cx="564" cy="11.1" r="0.72" fill="#ff8c00"/><circle cx="565.8" cy="12.7" r="0.72" fill="#ff8c00"/><circle cx="570.2" cy="14.6" r="0.72" fill="#ff8c00"/><circle cx="573.8" cy="17" r="0.72" fill="#ff8c00"/><circle cx="575.3" cy="20.2" r="0.72" fill="#ff8c00"/><circle cx="578" cy="25.5" r="0.72" fill="#ff8c00"/><circle cx="580.7" cy="32.2" r="0.72" fill="#ff8c00"/><circle cx="583.3" cy="37.5" r="0.72" fill="#ff8c00"/><circle cx="586.7" cy="42.2" r="0.72" fill="#ff8c00"/><circle cx="590" cy="46.2" r="0.72" fill="#ff8c00"/><circle cx="590.9" cy="47.4" r="0.72" fill="#ff8c00"/><circle cx="599.8" cy="52.6" r="0.72" fill="#ff8c00"/><circle cx="604.2" cy="60.7" r="0.72" fill="#ff8c00"/><circle cx="608.7" cy="69.6" r="0.72" fill="#ff8c00"/><circle cx="613.1" cy="74.8" r="0.72" fill="#ff8c00"/><circle cx="616.1" cy="74.2" r="0.72" fill="#ff8c00"/><circle cx="622.7" cy="71.6" r="0.72" fill="#ff8c00"/><circle cx="628.9" cy="67.1" r="0.72" fill="#ff8c00"/><circle cx="633.3" cy="66.7" r="0.72" fill="#ff8c00"/><circle cx="636.9" cy="65.8" r="0.72" fill="#ff8c00"/><circle cx="640.4" cy="60.4" r="0.72" fill="#ff8c00"/><circle cx="646.7" cy="60.4" r="0.72" fill="#ff8c00"/><circle cx="651.1" cy="60" r="0.72" fill="#ff8c00"/><circle cx="655.6" cy="60.4" r="0.72" fill="#ff8c00"/><circle cx="659.1" cy="59.1" r="0.72" fill="#ff8c00"/><circle cx="664.4" cy="59.1" r="0.72" fill="#ff8c00"/><circle cx="668" cy="59.1" r="0.72" fill="#ff8c00"/><circle cx="676.9" cy="57.2" r="0.72" fill="#ff8c00"/>
</g>
<g clip-path="url(#clipg)">
<polyline points="379.2,140.5 385.9,142.7 392.1,144 394.8,146.2 401,148.9 404.4,155.8 406.7,161.8 408.9,166.2 411.9,171.4 415.6,176.6 419.3,179.5 424.8,181.9 430.7,184.1 436.7,186.3 442.6,187.8 445.6,190.4 450,190 455,191.8 461.4,197 464.1,199.6 470.5,195.7 480.9,196.2 488.7,193.1 496.5,192.6 504.2,191" fill="none" stroke="#000000" stroke-width="1.05" stroke-linejoin="round" stroke-linecap="round"/>
<circle cx="385.9" cy="142.7" r="0.72" fill="#000000"/><circle cx="392.1" cy="144" r="0.72" fill="#000000"/><circle cx="394.8" cy="146.2" r="0.72" fill="#000000"/><circle cx="401" cy="148.9" r="0.72" fill="#000000"/><circle cx="404.4" cy="155.8" r="0.72" fill="#000000"/><circle cx="406.7" cy="161.8" r="0.72" fill="#000000"/><circle cx="408.9" cy="166.2" r="0.72" fill="#000000"/><circle cx="411.9" cy="171.4" r="0.72" fill="#000000"/><circle cx="415.6" cy="176.6" r="0.72" fill="#000000"/><circle cx="419.3" cy="179.5" r="0.72" fill="#000000"/><circle cx="424.8" cy="181.9" r="0.72" fill="#000000"/><circle cx="430.7" cy="184.1" r="0.72" fill="#000000"/><circle cx="436.7" cy="186.3" r="0.72" fill="#000000"/><circle cx="442.6" cy="187.8" r="0.72" fill="#000000"/><circle cx="445.6" cy="190.4" r="0.72" fill="#000000"/><circle cx="450" cy="190" r="0.72" fill="#000000"/><circle cx="455" cy="191.8" r="0.72" fill="#000000"/><circle cx="461.4" cy="197" r="0.72" fill="#000000"/><circle cx="464.1" cy="199.6" r="0.72" fill="#000000"/><circle cx="470.5" cy="195.7" r="0.72" fill="#000000"/><circle cx="480.9" cy="196.2" r="0.72" fill="#000000"/><circle cx="488.7" cy="193.1" r="0.72" fill="#000000"/><circle cx="496.5" cy="192.6" r="0.72" fill="#000000"/><circle cx="504.2" cy="191" r="0.72" fill="#000000"/>
<polyline points="379.2,141.35 385.9,143.55 392.1,144.85 394.8,147.05 401,149.75 404.4,156.65 406.7,162.65 408.9,167.05 411.9,172.25 415.6,177.45 419.3,180.35 427.8,184.8 435.2,189.3 439.6,194.4 442.6,199.6 447.6,202.8 454.5,204.8 458.4,212.6 463.3,224.4 467.3,231.3 471.2,231.3 480.9,228.1 488.7,221.6 493.9,211.3 497.7,212.6 500.3,203.5 504.2,191" fill="none" stroke="#0000ff" stroke-width="1.05" stroke-linejoin="round" stroke-linecap="round"/>
<circle cx="385.9" cy="143.55" r="0.72" fill="#0000ff"/><circle cx="392.1" cy="144.85" r="0.72" fill="#0000ff"/><circle cx="394.8" cy="147.05" r="0.72" fill="#0000ff"/><circle cx="401" cy="149.75" r="0.72" fill="#0000ff"/><circle cx="404.4" cy="156.65" r="0.72" fill="#0000ff"/><circle cx="406.7" cy="162.65" r="0.72" fill="#0000ff"/><circle cx="408.9" cy="167.05" r="0.72" fill="#0000ff"/><circle cx="411.9" cy="172.25" r="0.72" fill="#0000ff"/><circle cx="415.6" cy="177.45" r="0.72" fill="#0000ff"/><circle cx="419.3" cy="180.35" r="0.72" fill="#0000ff"/><circle cx="427.8" cy="184.8" r="0.72" fill="#0000ff"/><circle cx="435.2" cy="189.3" r="0.72" fill="#0000ff"/><circle cx="439.6" cy="194.4" r="0.72" fill="#0000ff"/><circle cx="442.6" cy="199.6" r="0.72" fill="#0000ff"/><circle cx="447.6" cy="202.8" r="0.72" fill="#0000ff"/><circle cx="454.5" cy="204.8" r="0.72" fill="#0000ff"/><circle cx="458.4" cy="212.6" r="0.72" fill="#0000ff"/><circle cx="463.3" cy="224.4" r="0.72" fill="#0000ff"/><circle cx="467.3" cy="231.3" r="0.72" fill="#0000ff"/><circle cx="471.2" cy="231.3" r="0.72" fill="#0000ff"/><circle cx="480.9" cy="228.1" r="0.72" fill="#0000ff"/><circle cx="488.7" cy="221.6" r="0.72" fill="#0000ff"/><circle cx="493.9" cy="211.3" r="0.72" fill="#0000ff"/><circle cx="497.7" cy="212.6" r="0.72" fill="#0000ff"/><circle cx="500.3" cy="203.5" r="0.72" fill="#0000ff"/><circle cx="504.2" cy="191" r="0.72" fill="#0000ff"/>
<polyline points="379.2,141 385.9,143.4 392.1,145.6 395,148 401,151.3 404.4,156.6 406.7,162.4 408.9,166.8 411.9,171.9 415.6,177.2 419.3,180.2 427.8,184.5 435.9,192.2 439.6,199.6 442.6,204 445.7,209.7 453.5,214.6 458.4,224.4 462.4,234.2 466.3,239.1 469.2,237.2 480.9,233.3 491.3,224.2 497.7,213.9 501.6,203.5 504.2,191" fill="none" stroke="#ff0000" stroke-width="1.05" stroke-linejoin="round" stroke-linecap="round"/>
<circle cx="385.9" cy="143.4" r="0.72" fill="#ff0000"/><circle cx="392.1" cy="145.6" r="0.72" fill="#ff0000"/><circle cx="395" cy="148" r="0.72" fill="#ff0000"/><circle cx="401" cy="151.3" r="0.72" fill="#ff0000"/><circle cx="404.4" cy="156.6" r="0.72" fill="#ff0000"/><circle cx="406.7" cy="162.4" r="0.72" fill="#ff0000"/><circle cx="408.9" cy="166.8" r="0.72" fill="#ff0000"/><circle cx="411.9" cy="171.9" r="0.72" fill="#ff0000"/><circle cx="415.6" cy="177.2" r="0.72" fill="#ff0000"/><circle cx="419.3" cy="180.2" r="0.72" fill="#ff0000"/><circle cx="427.8" cy="184.5" r="0.72" fill="#ff0000"/><circle cx="435.9" cy="192.2" r="0.72" fill="#ff0000"/><circle cx="439.6" cy="199.6" r="0.72" fill="#ff0000"/><circle cx="442.6" cy="204" r="0.72" fill="#ff0000"/><circle cx="445.7" cy="209.7" r="0.72" fill="#ff0000"/><circle cx="453.5" cy="214.6" r="0.72" fill="#ff0000"/><circle cx="458.4" cy="224.4" r="0.72" fill="#ff0000"/><circle cx="462.4" cy="234.2" r="0.72" fill="#ff0000"/><circle cx="466.3" cy="239.1" r="0.72" fill="#ff0000"/><circle cx="469.2" cy="237.2" r="0.72" fill="#ff0000"/><circle cx="480.9" cy="233.3" r="0.72" fill="#ff0000"/><circle cx="491.3" cy="224.2" r="0.72" fill="#ff0000"/><circle cx="497.7" cy="213.9" r="0.72" fill="#ff0000"/><circle cx="501.6" cy="203.5" r="0.72" fill="#ff0000"/><circle cx="504.2" cy="191" r="0.72" fill="#ff0000"/>
<polyline points="379.2,140.7 385.9,142.9 392.1,144.2 394.8,146.4 401,149.1 404.4,156 406.7,162 408.9,166.4 411.9,171.6 415.6,176.8 419.3,179.7 427.8,184.1 433.7,190 437.4,196.7 440.8,204.8 445.7,217.5 453.5,223.4 456.5,229.3 461.4,237.2 465.3,238.1 469.2,235.2 480.9,230.7 491.3,222.9 497.7,211.3 504.2,191" fill="none" stroke="#008000" stroke-width="1.05" stroke-linejoin="round" stroke-linecap="round"/>
<circle cx="385.9" cy="142.9" r="0.72" fill="#008000"/><circle cx="392.1" cy="144.2" r="0.72" fill="#008000"/><circle cx="394.8" cy="146.4" r="0.72" fill="#008000"/><circle cx="401" cy="149.1" r="0.72" fill="#008000"/><circle cx="404.4" cy="156" r="0.72" fill="#008000"/><circle cx="406.7" cy="162" r="0.72" fill="#008000"/><circle cx="408.9" cy="166.4" r="0.72" fill="#008000"/><circle cx="411.9" cy="171.6" r="0.72" fill="#008000"/><circle cx="415.6" cy="176.8" r="0.72" fill="#008000"/><circle cx="419.3" cy="179.7" r="0.72" fill="#008000"/><circle cx="427.8" cy="184.1" r="0.72" fill="#008000"/><circle cx="433.7" cy="190" r="0.72" fill="#008000"/><circle cx="437.4" cy="196.7" r="0.72" fill="#008000"/><circle cx="440.8" cy="204.8" r="0.72" fill="#008000"/><circle cx="445.7" cy="217.5" r="0.72" fill="#008000"/><circle cx="453.5" cy="223.4" r="0.72" fill="#008000"/><circle cx="456.5" cy="229.3" r="0.72" fill="#008000"/><circle cx="461.4" cy="237.2" r="0.72" fill="#008000"/><circle cx="465.3" cy="238.1" r="0.72" fill="#008000"/><circle cx="469.2" cy="235.2" r="0.72" fill="#008000"/><circle cx="480.9" cy="230.7" r="0.72" fill="#008000"/><circle cx="491.3" cy="222.9" r="0.72" fill="#008000"/><circle cx="497.7" cy="211.3" r="0.72" fill="#008000"/><circle cx="504.2" cy="191" r="0.72" fill="#008000"/>
<polyline points="379.2,141.1 385.9,143.3 392.1,144.6 394.8,146.8 401,149.5 404.4,156.4 406.7,162.4 408.9,166.8 411.9,172 415.6,177.2 419.3,180.1 427.8,184.6 432.2,190.7 436.7,199.6 440.8,208.7 443.7,213.6 452.5,220.5 457.5,229.3 463.3,236.2 468.2,236.2 472.2,225.4 480.9,217.7 488.7,212.6 496.5,197 504.2,191" fill="none" stroke="#800080" stroke-width="1.05" stroke-linejoin="round" stroke-linecap="round"/>
<circle cx="385.9" cy="143.3" r="0.72" fill="#800080"/><circle cx="392.1" cy="144.6" r="0.72" fill="#800080"/><circle cx="394.8" cy="146.8" r="0.72" fill="#800080"/><circle cx="401" cy="149.5" r="0.72" fill="#800080"/><circle cx="404.4" cy="156.4" r="0.72" fill="#800080"/><circle cx="406.7" cy="162.4" r="0.72" fill="#800080"/><circle cx="408.9" cy="166.8" r="0.72" fill="#800080"/><circle cx="411.9" cy="172" r="0.72" fill="#800080"/><circle cx="415.6" cy="177.2" r="0.72" fill="#800080"/><circle cx="419.3" cy="180.1" r="0.72" fill="#800080"/><circle cx="427.8" cy="184.6" r="0.72" fill="#800080"/><circle cx="432.2" cy="190.7" r="0.72" fill="#800080"/><circle cx="436.7" cy="199.6" r="0.72" fill="#800080"/><circle cx="440.8" cy="208.7" r="0.72" fill="#800080"/><circle cx="443.7" cy="213.6" r="0.72" fill="#800080"/><circle cx="452.5" cy="220.5" r="0.72" fill="#800080"/><circle cx="457.5" cy="229.3" r="0.72" fill="#800080"/><circle cx="463.3" cy="236.2" r="0.72" fill="#800080"/><circle cx="468.2" cy="236.2" r="0.72" fill="#800080"/><circle cx="472.2" cy="225.4" r="0.72" fill="#800080"/><circle cx="480.9" cy="217.7" r="0.72" fill="#800080"/><circle cx="488.7" cy="212.6" r="0.72" fill="#800080"/><circle cx="496.5" cy="197" r="0.72" fill="#800080"/><circle cx="504.2" cy="191" r="0.72" fill="#800080"/>
<polyline points="379.2,140.1 385.9,142.3 392.1,143.6 394.8,145.8 401,148.5 404.4,155.4 406.7,161.4 408.9,165.8 411.9,171 415.6,176.2 419.3,179.1 419.6,183.3 427.8,187 434.4,195.9 438.9,204.1 441.9,207.8 444.8,206.3 449.6,202.8 455.5,202.8 462.4,200.9 466.3,198.9 473.1,193.1 480.9,192.6 488.7,194.4 496.5,188 500.3,190.5 504.2,191" fill="none" stroke="#ff8c00" stroke-width="1.05" stroke-linejoin="round" stroke-linecap="round"/>
<circle cx="385.9" cy="142.3" r="0.72" fill="#ff8c00"/><circle cx="392.1" cy="143.6" r="0.72" fill="#ff8c00"/><circle cx="394.8" cy="145.8" r="0.72" fill="#ff8c00"/><circle cx="401" cy="148.5" r="0.72" fill="#ff8c00"/><circle cx="404.4" cy="155.4" r="0.72" fill="#ff8c00"/><circle cx="406.7" cy="161.4" r="0.72" fill="#ff8c00"/><circle cx="408.9" cy="165.8" r="0.72" fill="#ff8c00"/><circle cx="411.9" cy="171" r="0.72" fill="#ff8c00"/><circle cx="415.6" cy="176.2" r="0.72" fill="#ff8c00"/><circle cx="419.3" cy="179.1" r="0.72" fill="#ff8c00"/><circle cx="419.6" cy="183.3" r="0.72" fill="#ff8c00"/><circle cx="427.8" cy="187" r="0.72" fill="#ff8c00"/><circle cx="434.4" cy="195.9" r="0.72" fill="#ff8c00"/><circle cx="438.9" cy="204.1" r="0.72" fill="#ff8c00"/><circle cx="441.9" cy="207.8" r="0.72" fill="#ff8c00"/><circle cx="444.8" cy="206.3" r="0.72" fill="#ff8c00"/><circle cx="449.6" cy="202.8" r="0.72" fill="#ff8c00"/><circle cx="455.5" cy="202.8" r="0.72" fill="#ff8c00"/><circle cx="462.4" cy="200.9" r="0.72" fill="#ff8c00"/><circle cx="466.3" cy="198.9" r="0.72" fill="#ff8c00"/><circle cx="473.1" cy="193.1" r="0.72" fill="#ff8c00"/><circle cx="480.9" cy="192.6" r="0.72" fill="#ff8c00"/><circle cx="488.7" cy="194.4" r="0.72" fill="#ff8c00"/><circle cx="496.5" cy="188" r="0.72" fill="#ff8c00"/><circle cx="500.3" cy="190.5" r="0.72" fill="#ff8c00"/><circle cx="504.2" cy="191" r="0.72" fill="#ff8c00"/>
</g>
<g clip-path="url(#cliph)">
<polyline points="551.2,140.8 556.8,143 563.4,145.2 565.7,148 569,150.8 572.9,153.6 575.1,158.6 576.2,161.6 578.7,169.9 581.2,178.2 583.7,186.6 586.2,193.2 588.7,195.6 596.1,203 603.5,207.6 610.9,211.3 616.5,214.1 618.7,215.2 625.7,215.9 630.5,216 638.3,220.5 644.2,218.5 654,216.6 661.9,214.6 667.7,213.6 669.7,210.7 672.6,212.6 676.6,216" fill="none" stroke="#000000" stroke-width="1.05" stroke-linejoin="round" stroke-linecap="round"/>
<circle cx="556.8" cy="143" r="0.72" fill="#000000"/><circle cx="563.4" cy="145.2" r="0.72" fill="#000000"/><circle cx="565.7" cy="148" r="0.72" fill="#000000"/><circle cx="569" cy="150.8" r="0.72" fill="#000000"/><circle cx="572.9" cy="153.6" r="0.72" fill="#000000"/><circle cx="575.1" cy="158.6" r="0.72" fill="#000000"/><circle cx="576.2" cy="161.6" r="0.72" fill="#000000"/><circle cx="578.7" cy="169.9" r="0.72" fill="#000000"/><circle cx="581.2" cy="178.2" r="0.72" fill="#000000"/><circle cx="583.7" cy="186.6" r="0.72" fill="#000000"/><circle cx="586.2" cy="193.2" r="0.72" fill="#000000"/><circle cx="588.7" cy="195.6" r="0.72" fill="#000000"/><circle cx="596.1" cy="203" r="0.72" fill="#000000"/><circle cx="603.5" cy="207.6" r="0.72" fill="#000000"/><circle cx="610.9" cy="211.3" r="0.72" fill="#000000"/><circle cx="616.5" cy="214.1" r="0.72" fill="#000000"/><circle cx="618.7" cy="215.2" r="0.72" fill="#000000"/><circle cx="625.7" cy="215.9" r="0.72" fill="#000000"/><circle cx="630.5" cy="216" r="0.72" fill="#000000"/><circle cx="638.3" cy="220.5" r="0.72" fill="#000000"/><circle cx="644.2" cy="218.5" r="0.72" fill="#000000"/><circle cx="654" cy="216.6" r="0.72" fill="#000000"/><circle cx="661.9" cy="214.6" r="0.72" fill="#000000"/><circle cx="667.7" cy="213.6" r="0.72" fill="#000000"/><circle cx="669.7" cy="210.7" r="0.72" fill="#000000"/><circle cx="672.6" cy="212.6" r="0.72" fill="#000000"/><circle cx="676.6" cy="216" r="0.72" fill="#000000"/>
<polyline points="551.2,141.65 556.8,143.85 563.4,146.05 565.7,148.85 569,151.65 572.9,154.45 575.1,159.45 576.2,162.45 578.7,170.75 581.2,179.05 583.7,187.45 586.2,194.05 590,199.5 596,204 601.7,207.6 607.2,214.1 610.9,219.6 613.7,224.3 617.4,221.5 622,224.3 630.5,224.4 637.4,227.4 642.3,216.6 656,215.6 667.7,219.5 670.7,213.6 676.6,216" fill="none" stroke="#0000ff" stroke-width="1.05" stroke-linejoin="round" stroke-linecap="round"/>
<circle cx="556.8" cy="143.85" r="0.72" fill="#0000ff"/><circle cx="563.4" cy="146.05" r="0.72" fill="#0000ff"/><circle cx="565.7" cy="148.85" r="0.72" fill="#0000ff"/><circle cx="569" cy="151.65" r="0.72" fill="#0000ff"/><circle cx="572.9" cy="154.45" r="0.72" fill="#0000ff"/><circle cx="575.1" cy="159.45" r="0.72" fill="#0000ff"/><circle cx="576.2" cy="162.45" r="0.72" fill="#0000ff"/><circle cx="578.7" cy="170.75" r="0.72" fill="#0000ff"/><circle cx="581.2" cy="179.05" r="0.72" fill="#0000ff"/><circle cx="583.7" cy="187.45" r="0.72" fill="#0000ff"/><circle cx="586.2" cy="194.05" r="0.72" fill="#0000ff"/><circle cx="590" cy="199.5" r="0.72" fill="#0000ff"/><circle cx="596" cy="204" r="0.72" fill="#0000ff"/><circle cx="601.7" cy="207.6" r="0.72" fill="#0000ff"/><circle cx="607.2" cy="214.1" r="0.72" fill="#0000ff"/><circle cx="610.9" cy="219.6" r="0.72" fill="#0000ff"/><circle cx="613.7" cy="224.3" r="0.72" fill="#0000ff"/><circle cx="617.4" cy="221.5" r="0.72" fill="#0000ff"/><circle cx="622" cy="224.3" r="0.72" fill="#0000ff"/><circle cx="630.5" cy="224.4" r="0.72" fill="#0000ff"/><circle cx="637.4" cy="227.4" r="0.72" fill="#0000ff"/><circle cx="642.3" cy="216.6" r="0.72" fill="#0000ff"/><circle cx="656" cy="215.6" r="0.72" fill="#0000ff"/><circle cx="667.7" cy="219.5" r="0.72" fill="#0000ff"/><circle cx="670.7" cy="213.6" r="0.72" fill="#0000ff"/><circle cx="676.6" cy="216" r="0.72" fill="#0000ff"/>
<polyline points="551.2,141.2 556.8,143.4 563.4,145.6 565.7,148.4 569,151.2 572.9,154 575.1,159 576.2,162 578.7,170.3 581.2,178.6 583.7,187 586.2,193.6 590,200 597,206 603.5,212.2 608.1,219.6 612.8,226.1 615.6,234.4 621.1,229.8 627.6,228 632.5,226.4 639.3,229.3 642.3,222.5 656,218.5 665.8,216.6 669.7,206.8 672.6,209.7 676.6,216" fill="none" stroke="#ff0000" stroke-width="1.05" stroke-linejoin="round" stroke-linecap="round"/>
<circle cx="556.8" cy="143.4" r="0.72" fill="#ff0000"/><circle cx="563.4" cy="145.6" r="0.72" fill="#ff0000"/><circle cx="565.7" cy="148.4" r="0.72" fill="#ff0000"/><circle cx="569" cy="151.2" r="0.72" fill="#ff0000"/><circle cx="572.9" cy="154" r="0.72" fill="#ff0000"/><circle cx="575.1" cy="159" r="0.72" fill="#ff0000"/><circle cx="576.2" cy="162" r="0.72" fill="#ff0000"/><circle cx="578.7" cy="170.3" r="0.72" fill="#ff0000"/><circle cx="581.2" cy="178.6" r="0.72" fill="#ff0000"/><circle cx="583.7" cy="187" r="0.72" fill="#ff0000"/><circle cx="586.2" cy="193.6" r="0.72" fill="#ff0000"/><circle cx="590" cy="200" r="0.72" fill="#ff0000"/><circle cx="597" cy="206" r="0.72" fill="#ff0000"/><circle cx="603.5" cy="212.2" r="0.72" fill="#ff0000"/><circle cx="608.1" cy="219.6" r="0.72" fill="#ff0000"/><circle cx="612.8" cy="226.1" r="0.72" fill="#ff0000"/><circle cx="615.6" cy="234.4" r="0.72" fill="#ff0000"/><circle cx="621.1" cy="229.8" r="0.72" fill="#ff0000"/><circle cx="627.6" cy="228" r="0.72" fill="#ff0000"/><circle cx="632.5" cy="226.4" r="0.72" fill="#ff0000"/><circle cx="639.3" cy="229.3" r="0.72" fill="#ff0000"/><circle cx="642.3" cy="222.5" r="0.72" fill="#ff0000"/><circle cx="656" cy="218.5" r="0.72" fill="#ff0000"/><circle cx="665.8" cy="216.6" r="0.72" fill="#ff0000"/><circle cx="669.7" cy="206.8" r="0.72" fill="#ff0000"/><circle cx="672.6" cy="209.7" r="0.72" fill="#ff0000"/><circle cx="676.6" cy="216" r="0.72" fill="#ff0000"/>
<polyline points="551.2,141 556.8,143.2 563.4,145.4 565.7,148.2 569,151 572.9,153.8 575.1,158.8 576.2,161.8 578.7,170.1 581.2,178.4 583.7,186.8 586.2,193.4 590,199.8 595,203.5 599.8,208.5 605.4,217.8 609.1,226.1 612.8,238.1 617.7,243 624.6,241.1 630.5,234.2 636.4,228.3 644.2,222.5 656,219.5 663.8,218.5 667.7,219.5 669.7,214.6 676.6,216" fill="none" stroke="#008000" stroke-width="1.05" stroke-linejoin="round" stroke-linecap="round"/>
<circle cx="556.8" cy="143.2" r="0.72" fill="#008000"/><circle cx="563.4" cy="145.4" r="0.72" fill="#008000"/><circle cx="565.7" cy="148.2" r="0.72" fill="#008000"/><circle cx="569" cy="151" r="0.72" fill="#008000"/><circle cx="572.9" cy="153.8" r="0.72" fill="#008000"/><circle cx="575.1" cy="158.8" r="0.72" fill="#008000"/><circle cx="576.2" cy="161.8" r="0.72" fill="#008000"/><circle cx="578.7" cy="170.1" r="0.72" fill="#008000"/><circle cx="581.2" cy="178.4" r="0.72" fill="#008000"/><circle cx="583.7" cy="186.8" r="0.72" fill="#008000"/><circle cx="586.2" cy="193.4" r="0.72" fill="#008000"/><circle cx="590" cy="199.8" r="0.72" fill="#008000"/><circle cx="595" cy="203.5" r="0.72" fill="#008000"/><circle cx="599.8" cy="208.5" r="0.72" fill="#008000"/><circle cx="605.4" cy="217.8" r="0.72" fill="#008000"/><circle cx="609.1" cy="226.1" r="0.72" fill="#008000"/><circle cx="612.8" cy="238.1" r="0.72" fill="#008000"/><circle cx="617.7" cy="243" r="0.72" fill="#008000"/><circle cx="624.6" cy="241.1" r="0.72" fill="#008000"/><circle cx="630.5" cy="234.2" r="0.72" fill="#008000"/><circle cx="636.4" cy="228.3" r="0.72" fill="#008000"/><circle cx="644.2" cy="222.5" r="0.72" fill="#008000"/><circle cx="656" cy="219.5" r="0.72" fill="#008000"/><circle cx="663.8" cy="218.5" r="0.72" fill="#008000"/><circle cx="667.7" cy="219.5" r="0.72" fill="#008000"/><circle cx="669.7" cy="214.6" r="0.72" fill="#008000"/><circle cx="676.6" cy="216" r="0.72" fill="#008000"/>
<polyline points="551.2,141.4 556.8,143.6 563.4,145.8 565.7,148.6 569,151.4 572.9,154.2 575.1,159.2 576.2,162.2 578.7,170.5 581.2,178.8 583.7,187.2 586.2,193.8 590,200.5 598,208.5 605.4,217.8 610.9,227 613.7,235.4 617.4,231.7 620.7,231.3 623.9,229.8 630.5,229.3 636.4,228.3 643.2,215.6 656,214.6 665.8,216.6 669.7,212.6 676.6,216" fill="none" stroke="#800080" stroke-width="1.05" stroke-linejoin="round" stroke-linecap="round"/>
<circle cx="556.8" cy="143.6" r="0.72" fill="#800080"/><circle cx="563.4" cy="145.8" r="0.72" fill="#800080"/><circle cx="565.7" cy="148.6" r="0.72" fill="#800080"/><circle cx="569" cy="151.4" r="0.72" fill="#800080"/><circle cx="572.9" cy="154.2" r="0.72" fill="#800080"/><circle cx="575.1" cy="159.2" r="0.72" fill="#800080"/><circle cx="576.2" cy="162.2" r="0.72" fill="#800080"/><circle cx="578.7" cy="170.5" r="0.72" fill="#800080"/><circle cx="581.2" cy="178.8" r="0.72" fill="#800080"/><circle cx="583.7" cy="187.2" r="0.72" fill="#800080"/><circle cx="586.2" cy="193.8" r="0.72" fill="#800080"/><circle cx="590" cy="200.5" r="0.72" fill="#800080"/><circle cx="598" cy="208.5" r="0.72" fill="#800080"/><circle cx="605.4" cy="217.8" r="0.72" fill="#800080"/><circle cx="610.9" cy="227" r="0.72" fill="#800080"/><circle cx="613.7" cy="235.4" r="0.72" fill="#800080"/><circle cx="617.4" cy="231.7" r="0.72" fill="#800080"/><circle cx="620.7" cy="231.3" r="0.72" fill="#800080"/><circle cx="623.9" cy="229.8" r="0.72" fill="#800080"/><circle cx="630.5" cy="229.3" r="0.72" fill="#800080"/><circle cx="636.4" cy="228.3" r="0.72" fill="#800080"/><circle cx="643.2" cy="215.6" r="0.72" fill="#800080"/><circle cx="656" cy="214.6" r="0.72" fill="#800080"/><circle cx="665.8" cy="216.6" r="0.72" fill="#800080"/><circle cx="669.7" cy="212.6" r="0.72" fill="#800080"/><circle cx="676.6" cy="216" r="0.72" fill="#800080"/>
<polyline points="551.2,140.4 556.8,142.6 563.4,144.8 565.7,147.6 569,150.4 572.9,153.2 575.1,158.2 576.2,161.2 578.7,169.5 581.2,177.8 583.7,186.2 586.2,192.8 587.8,197.4 592.4,203 599.8,207.6 605.4,214.1 609.1,220.6 611.9,225.2 615.6,222.4 618.7,224.4 622,223.3 628.5,219.6 630.5,216.6 637.4,223.4 642.3,220.5 650.1,218.5 661.9,214.6 669.7,207.7 672.6,211.7 676.6,216" fill="none" stroke="#ff8c00" stroke-width="1.05" stroke-linejoin="round" stroke-linecap="round"/>
<circle cx="556.8" cy="142.6" r="0.72" fill="#ff8c00"/><circle cx="563.4" cy="144.8" r="0.72" fill="#ff8c00"/><circle cx="565.7" cy="147.6" r="0.72" fill="#ff8c00"/><circle cx="569" cy="150.4" r="0.72" fill="#ff8c00"/><circle cx="572.9" cy="153.2" r="0.72" fill="#ff8c00"/><circle cx="575.1" cy="158.2" r="0.72" fill="#ff8c00"/><circle cx="576.2" cy="161.2" r="0.72" fill="#ff8c00"/><circle cx="578.7" cy="169.5" r="0.72" fill="#ff8c00"/><circle cx="581.2" cy="177.8" r="0.72" fill="#ff8c00"/><circle cx="583.7" cy="186.2" r="0.72" fill="#ff8c00"/><circle cx="586.2" cy="192.8" r="0.72" fill="#ff8c00"/><circle cx="587.8" cy="197.4" r="0.72" fill="#ff8c00"/><circle cx="592.4" cy="203" r="0.72" fill="#ff8c00"/><circle cx="599.8" cy="207.6" r="0.72" fill="#ff8c00"/><circle cx="605.4" cy="214.1" r="0.72" fill="#ff8c00"/><circle cx="609.1" cy="220.6" r="0.72" fill="#ff8c00"/><circle cx="611.9" cy="225.2" r="0.72" fill="#ff8c00"/><circle cx="615.6" cy="222.4" r="0.72" fill="#ff8c00"/><circle cx="618.7" cy="224.4" r="0.72" fill="#ff8c00"/><circle cx="622" cy="223.3" r="0.72" fill="#ff8c00"/><circle cx="628.5" cy="219.6" r="0.72" fill="#ff8c00"/><circle cx="630.5" cy="216.6" r="0.72" fill="#ff8c00"/><circle cx="637.4" cy="223.4" r="0.72" fill="#ff8c00"/><circle cx="642.3" cy="220.5" r="0.72" fill="#ff8c00"/><circle cx="650.1" cy="218.5" r="0.72" fill="#ff8c00"/><circle cx="661.9" cy="214.6" r="0.72" fill="#ff8c00"/><circle cx="669.7" cy="207.7" r="0.72" fill="#ff8c00"/><circle cx="672.6" cy="211.7" r="0.72" fill="#ff8c00"/><circle cx="676.6" cy="216" r="0.72" fill="#ff8c00"/>
</g>
<rect x="126.6" y="48.9" width="43.2" height="63.3" rx="1.5" fill="#fff" fill-opacity="0.85" stroke="#d9d9d9" stroke-width="0.8"/>
<circle cx="134.3" cy="53.8" r="1.15" fill="none" stroke="#000000" stroke-width="0.5" opacity="0.85"/>
<text transform="translate(141.27,56.2) scale(1.1631,1)" font-family='"Liberation Sans", sans-serif' font-size="7.31" fill="#000000" style="stroke-width:0.2px">ϕ</text>
<text transform="translate(146.18,56.3) scale(1.2106,1)" font-family='"Liberation Sans", sans-serif' font-size="7.16" fill="#000000" style="stroke-width:0.12px">=0.09</text>
<circle cx="134.3" cy="64.3" r="1.15" fill="none" stroke="#0000ff" stroke-width="0.5" opacity="0.85"/>
<text transform="translate(141.27,66.7) scale(1.1631,1)" font-family='"Liberation Sans", sans-serif' font-size="7.31" fill="#000000" style="stroke-width:0.2px">ϕ</text>
<text transform="translate(146.18,66.8) scale(1.2106,1)" font-family='"Liberation Sans", sans-serif' font-size="7.16" fill="#000000" style="stroke-width:0.12px">=0.19</text>
<circle cx="134.3" cy="74.7" r="1.15" fill="none" stroke="#ff0000" stroke-width="0.5" opacity="0.85"/>
<text transform="translate(141.27,77.1) scale(1.1631,1)" font-family='"Liberation Sans", sans-serif' font-size="7.31" fill="#000000" style="stroke-width:0.2px">ϕ</text>
<text transform="translate(146.18,77.2) scale(1.2016,1)" font-family='"Liberation Sans", sans-serif' font-size="7.16" fill="#000000" style="stroke-width:0.12px">=0.24</text>
<circle cx="134.3" cy="85.1" r="1.15" fill="none" stroke="#008000" stroke-width="0.5" opacity="0.85"/>
<text transform="translate(141.27,87.5) scale(1.1631,1)" font-family='"Liberation Sans", sans-serif' font-size="7.31" fill="#000000" style="stroke-width:0.2px">ϕ</text>
<text transform="translate(146.18,87.6) scale(1.2113,1)" font-family='"Liberation Sans", sans-serif' font-size="7.16" fill="#000000" style="stroke-width:0.12px">=0.31</text>
<circle cx="134.3" cy="95.7" r="1.15" fill="none" stroke="#800080" stroke-width="0.5" opacity="0.85"/>
<text transform="translate(141.27,98.1) scale(1.1631,1)" font-family='"Liberation Sans", sans-serif' font-size="7.31" fill="#000000" style="stroke-width:0.2px">ϕ</text>
<text transform="translate(146.18,98.2) scale(1.2089,1)" font-family='"Liberation Sans", sans-serif' font-size="7.16" fill="#000000" style="stroke-width:0.12px">=0.36</text>
<circle cx="134.3" cy="106.3" r="1.15" fill="none" stroke="#ff8c00" stroke-width="0.5" opacity="0.85"/>
<text transform="translate(141.27,108.7) scale(1.1631,1)" font-family='"Liberation Sans", sans-serif' font-size="7.31" fill="#000000" style="stroke-width:0.2px">ϕ</text>
<text transform="translate(146.18,108.8) scale(1.2016,1)" font-family='"Liberation Sans", sans-serif' font-size="7.16" fill="#000000" style="stroke-width:0.12px">=0.44</text>
<rect x="127.5" y="185.6" width="42.9" height="62.9" rx="1.5" fill="#fff" fill-opacity="0.85" stroke="#d9d9d9" stroke-width="0.8"/>
<circle cx="135.3" cy="189.9" r="1.15" fill="none" stroke="#000000" stroke-width="0.5" opacity="0.85"/>
<text transform="translate(142.27,192.3) scale(1.1631,1)" font-family='"Liberation Sans", sans-serif' font-size="7.31" fill="#000000" style="stroke-width:0.05px">ϕ</text>
<text transform="translate(147.18,192.4) scale(1.2106,1)" font-family='"Liberation Sans", sans-serif' font-size="7.16" fill="#000000" style="stroke-width:0.0px">=0.09</text>
<circle cx="135.3" cy="200.3" r="1.15" fill="none" stroke="#0000ff" stroke-width="0.5" opacity="0.85"/>
<text transform="translate(142.27,202.7) scale(1.1631,1)" font-family='"Liberation Sans", sans-serif' font-size="7.31" fill="#000000" style="stroke-width:0.05px">ϕ</text>
<text transform="translate(147.18,202.8) scale(1.2106,1)" font-family='"Liberation Sans", sans-serif' font-size="7.16" fill="#000000" style="stroke-width:0.0px">=0.19</text>
<circle cx="135.3" cy="210.7" r="1.15" fill="none" stroke="#ff0000" stroke-width="0.5" opacity="0.85"/>
<text transform="translate(142.27,213.1) scale(1.1631,1)" font-family='"Liberation Sans", sans-serif' font-size="7.31" fill="#000000" style="stroke-width:0.05px">ϕ</text>
<text transform="translate(147.18,213.2) scale(1.2016,1)" font-family='"Liberation Sans", sans-serif' font-size="7.16" fill="#000000" style="stroke-width:0.0px">=0.24</text>
<circle cx="135.3" cy="221.2" r="1.15" fill="none" stroke="#008000" stroke-width="0.5" opacity="0.85"/>
<text transform="translate(142.27,223.6) scale(1.1631,1)" font-family='"Liberation Sans", sans-serif' font-size="7.31" fill="#000000" style="stroke-width:0.05px">ϕ</text>
<text transform="translate(147.18,223.7) scale(1.2113,1)" font-family='"Liberation Sans", sans-serif' font-size="7.16" fill="#000000" style="stroke-width:0.0px">=0.31</text>
<circle cx="135.3" cy="231.7" r="1.15" fill="none" stroke="#800080" stroke-width="0.5" opacity="0.85"/>
<text transform="translate(142.27,234.1) scale(1.1631,1)" font-family='"Liberation Sans", sans-serif' font-size="7.31" fill="#000000" style="stroke-width:0.05px">ϕ</text>
<text transform="translate(147.18,234.2) scale(1.2089,1)" font-family='"Liberation Sans", sans-serif' font-size="7.16" fill="#000000" style="stroke-width:0.0px">=0.36</text>
<circle cx="135.3" cy="242.2" r="1.15" fill="none" stroke="#ff8c00" stroke-width="0.5" opacity="0.85"/>
<text transform="translate(142.27,244.6) scale(1.1631,1)" font-family='"Liberation Sans", sans-serif' font-size="7.31" fill="#000000" style="stroke-width:0.05px">ϕ</text>
<text transform="translate(147.18,244.7) scale(1.2016,1)" font-family='"Liberation Sans", sans-serif' font-size="7.16" fill="#000000" style="stroke-width:0.0px">=0.44</text>
<text transform="translate(34.47,14.54) scale(1.0504,1)" font-family='"Liberation Serif", serif' font-size="13.6" fill="#000" style="stroke-width:0.15px">(a)</text>
<text transform="translate(207.34,14.54) scale(1.0980,1)" font-family='"Liberation Serif", serif' font-size="13.6" fill="#000" style="stroke-width:0.15px">(b)</text>
<text transform="translate(374.91,26.74) scale(1.1584,1)" font-family='"Liberation Serif", serif' font-size="13.6" fill="#000" style="stroke-width:0.15px">(c)</text>
<text transform="translate(546.45,24.54) scale(1.0912,1)" font-family='"Liberation Serif", serif' font-size="13.6" fill="#000" style="stroke-width:0.15px">(d)</text>
<text transform="translate(35.41,150.54) scale(1.1584,1)" font-family='"Liberation Serif", serif' font-size="13.6" fill="#000" style="stroke-width:0.15px">(e)</text>
<text transform="translate(208.16,150.38) scale(1.0653,1)" font-family='"Liberation Serif", serif' font-size="13.6" fill="#000" style="stroke-width:0.15px">(f)</text>
<text transform="translate(376.07,156.24) scale(1.0503,1)" font-family='"Liberation Serif", serif' font-size="13.6" fill="#000" style="stroke-width:0.15px">(g)</text>
<text transform="translate(547.75,158.04) scale(1.0912,1)" font-family='"Liberation Serif", serif' font-size="13.6" fill="#000" style="stroke-width:0.15px">(h)</text>
<g transform="translate(67.78,10.7) scale(1.0732,1)"><text x="0" y="0" font-family='"Liberation Sans", sans-serif' font-size="6.6" font-style="italic" fill="#000000" xml:space="preserve">Pe</text><text x="8.07" y="0" font-family='"Liberation Sans", sans-serif' font-size="6.6" fill="#000000" xml:space="preserve"> = 0, </text><text x="22.93" y="0" font-family='"Liberation Sans", sans-serif' font-size="6.6" font-style="italic" fill="#000000" xml:space="preserve">ε</text><text x="25.83" y="1.3" font-family='"Liberation Sans", sans-serif' font-size="4.62" font-style="italic" fill="#000000" xml:space="preserve">a</text><text x="28.4" y="0" font-family='"Liberation Sans", sans-serif' font-size="6.6" fill="#000000" xml:space="preserve"> = </text><text x="35.92" y="0" font-family='"Liberation Sans", sans-serif' font-size="6.6" fill="#000000" xml:space="preserve">0</text></g>
<g transform="translate(241.39,10) scale(1.0391,1)"><text x="0" y="0" font-family='"Liberation Sans", sans-serif' font-size="6.6" font-style="italic" fill="#000000" xml:space="preserve">Pe</text><text x="8.07" y="0" font-family='"Liberation Sans", sans-serif' font-size="6.6" fill="#000000" xml:space="preserve"> = 0, </text><text x="22.93" y="0" font-family='"Liberation Sans", sans-serif' font-size="6.6" font-style="italic" fill="#000000" xml:space="preserve">ε</text><text x="25.83" y="1.3" font-family='"Liberation Sans", sans-serif' font-size="4.62" font-style="italic" fill="#000000" xml:space="preserve">a</text><text x="28.4" y="0" font-family='"Liberation Sans", sans-serif' font-size="6.6" fill="#000000" xml:space="preserve"> = </text><text x="35.92" y="0" font-family='"Liberation Sans", sans-serif' font-size="6.6" fill="#000000" xml:space="preserve">9</text><text x="39.59" y="0" font-family='"Liberation Sans", sans-serif' font-size="6.6" font-style="italic" fill="#000000" xml:space="preserve">K</text><text x="44" y="1.3" font-family='"Liberation Sans", sans-serif' font-size="4.62" font-style="italic" fill="#000000" xml:space="preserve">B</text><text x="47.08" y="0" font-family='"Liberation Sans", sans-serif' font-size="6.6" font-style="italic" fill="#000000" xml:space="preserve">T</text></g>
<g transform="translate(413.39,13) scale(1.0554,1)"><text x="0" y="0" font-family='"Liberation Sans", sans-serif' font-size="6.6" font-style="italic" fill="#000000" xml:space="preserve">Pe</text><text x="8.07" y="0" font-family='"Liberation Sans", sans-serif' font-size="6.6" fill="#000000" xml:space="preserve"> = 0, </text><text x="22.93" y="0" font-family='"Liberation Sans", sans-serif' font-size="6.6" font-style="italic" fill="#000000" xml:space="preserve">ε</text><text x="25.83" y="1.3" font-family='"Liberation Sans", sans-serif' font-size="4.62" font-style="italic" fill="#000000" xml:space="preserve">a</text><text x="28.4" y="0" font-family='"Liberation Sans", sans-serif' font-size="6.6" fill="#000000" xml:space="preserve"> = </text><text x="35.92" y="0" font-family='"Liberation Sans", sans-serif' font-size="6.6" fill="#000000" xml:space="preserve">0</text></g>
<g transform="translate(585.09,10.9) scale(1.0313,1)"><text x="0" y="0" font-family='"Liberation Sans", sans-serif' font-size="6.6" font-style="italic" fill="#000000" xml:space="preserve">Pe</text><text x="8.07" y="0" font-family='"Liberation Sans", sans-serif' font-size="6.6" fill="#000000" xml:space="preserve"> = 0, </text><text x="22.93" y="0" font-family='"Liberation Sans", sans-serif' font-size="6.6" font-style="italic" fill="#000000" xml:space="preserve">ε</text><text x="25.83" y="1.3" font-family='"Liberation Sans", sans-serif' font-size="4.62" font-style="italic" fill="#000000" xml:space="preserve">a</text><text x="28.4" y="0" font-family='"Liberation Sans", sans-serif' font-size="6.6" fill="#000000" xml:space="preserve"> = </text><text x="35.92" y="0" font-family='"Liberation Sans", sans-serif' font-size="6.6" fill="#000000" xml:space="preserve">9</text><text x="39.59" y="0" font-family='"Liberation Sans", sans-serif' font-size="6.6" font-style="italic" fill="#000000" xml:space="preserve">K</text><text x="44" y="1.3" font-family='"Liberation Sans", sans-serif' font-size="4.62" font-style="italic" fill="#000000" xml:space="preserve">B</text><text x="47.08" y="0" font-family='"Liberation Sans", sans-serif' font-size="6.6" font-style="italic" fill="#000000" xml:space="preserve">T</text></g>
<g transform="translate(69.49,145.3) scale(1.0332,1)"><text x="0" y="0" font-family='"Liberation Sans", sans-serif' font-size="6.6" font-style="italic" fill="#000000" xml:space="preserve">Pe</text><text x="8.07" y="0" font-family='"Liberation Sans", sans-serif' font-size="6.6" fill="#000000" xml:space="preserve"> = 1, </text><text x="22.93" y="0" font-family='"Liberation Sans", sans-serif' font-size="6.6" font-style="italic" fill="#000000" xml:space="preserve">ε</text><text x="25.83" y="1.3" font-family='"Liberation Sans", sans-serif' font-size="4.62" font-style="italic" fill="#000000" xml:space="preserve">a</text><text x="28.4" y="0" font-family='"Liberation Sans", sans-serif' font-size="6.6" fill="#000000" xml:space="preserve"> = </text><text x="35.92" y="0" font-family='"Liberation Sans", sans-serif' font-size="6.6" fill="#000000" xml:space="preserve">9</text><text x="39.59" y="0" font-family='"Liberation Sans", sans-serif' font-size="6.6" font-style="italic" fill="#000000" xml:space="preserve">K</text><text x="44" y="1.3" font-family='"Liberation Sans", sans-serif' font-size="4.62" font-style="italic" fill="#000000" xml:space="preserve">B</text><text x="47.08" y="0" font-family='"Liberation Sans", sans-serif' font-size="6.6" font-style="italic" fill="#000000" xml:space="preserve">T</text></g>
<g transform="translate(242.49,145.6) scale(1.0315,1)"><text x="0" y="0" font-family='"Liberation Sans", sans-serif' font-size="6.6" font-style="italic" fill="#000000" xml:space="preserve">Pe</text><text x="8.07" y="0" font-family='"Liberation Sans", sans-serif' font-size="6.6" fill="#000000" xml:space="preserve"> = 10, </text><text x="26.6" y="0" font-family='"Liberation Sans", sans-serif' font-size="6.6" font-style="italic" fill="#000000" xml:space="preserve">ε</text><text x="29.5" y="1.3" font-family='"Liberation Sans", sans-serif' font-size="4.62" font-style="italic" fill="#000000" xml:space="preserve">a</text><text x="32.07" y="0" font-family='"Liberation Sans", sans-serif' font-size="6.6" fill="#000000" xml:space="preserve"> = </text><text x="39.59" y="0" font-family='"Liberation Sans", sans-serif' font-size="6.6" fill="#000000" xml:space="preserve">9</text><text x="43.27" y="0" font-family='"Liberation Sans", sans-serif' font-size="6.6" font-style="italic" fill="#000000" xml:space="preserve">K</text><text x="47.67" y="1.3" font-family='"Liberation Sans", sans-serif' font-size="4.62" font-style="italic" fill="#000000" xml:space="preserve">B</text><text x="50.75" y="0" font-family='"Liberation Sans", sans-serif' font-size="6.6" font-style="italic" fill="#000000" xml:space="preserve">T</text></g>
<g transform="translate(413.39,144) scale(1.0527,1)"><text x="0" y="0" font-family='"Liberation Sans", sans-serif' font-size="6.6" font-style="italic" fill="#000000" xml:space="preserve">Pe</text><text x="8.07" y="0" font-family='"Liberation Sans", sans-serif' font-size="6.6" fill="#000000" xml:space="preserve"> = 1, </text><text x="22.93" y="0" font-family='"Liberation Sans", sans-serif' font-size="6.6" font-style="italic" fill="#000000" xml:space="preserve">ε</text><text x="25.83" y="1.3" font-family='"Liberation Sans", sans-serif' font-size="4.62" font-style="italic" fill="#000000" xml:space="preserve">a</text><text x="28.4" y="0" font-family='"Liberation Sans", sans-serif' font-size="6.6" fill="#000000" xml:space="preserve"> = </text><text x="35.92" y="0" font-family='"Liberation Sans", sans-serif' font-size="6.6" fill="#000000" xml:space="preserve">9</text><text x="39.59" y="0" font-family='"Liberation Sans", sans-serif' font-size="6.6" font-style="italic" fill="#000000" xml:space="preserve">K</text><text x="44" y="1.3" font-family='"Liberation Sans", sans-serif' font-size="4.62" font-style="italic" fill="#000000" xml:space="preserve">B</text><text x="47.08" y="0" font-family='"Liberation Sans", sans-serif' font-size="6.6" font-style="italic" fill="#000000" xml:space="preserve">T</text></g>
<g transform="translate(585.8,146.5) scale(1.0024,1)"><text x="0" y="0" font-family='"Liberation Sans", sans-serif' font-size="6.6" font-style="italic" fill="#000000" xml:space="preserve">Pe</text><text x="8.07" y="0" font-family='"Liberation Sans", sans-serif' font-size="6.6" fill="#000000" xml:space="preserve"> = 10, </text><text x="26.6" y="0" font-family='"Liberation Sans", sans-serif' font-size="6.6" font-style="italic" fill="#000000" xml:space="preserve">ε</text><text x="29.5" y="1.3" font-family='"Liberation Sans", sans-serif' font-size="4.62" font-style="italic" fill="#000000" xml:space="preserve">a</text><text x="32.07" y="0" font-family='"Liberation Sans", sans-serif' font-size="6.6" fill="#000000" xml:space="preserve"> = </text><text x="39.59" y="0" font-family='"Liberation Sans", sans-serif' font-size="6.6" fill="#000000" xml:space="preserve">9</text><text x="43.27" y="0" font-family='"Liberation Sans", sans-serif' font-size="6.6" font-style="italic" fill="#000000" xml:space="preserve">K</text><text x="47.67" y="1.3" font-family='"Liberation Sans", sans-serif' font-size="4.62" font-style="italic" fill="#000000" xml:space="preserve">B</text><text x="50.75" y="0" font-family='"Liberation Sans", sans-serif' font-size="6.6" font-style="italic" fill="#000000" xml:space="preserve">T</text></g>
<text transform="translate(82.72,131.9) scale(1.1457,1)" font-family='"Liberation Sans", sans-serif' font-size="10.3" fill="#000000" class="xl">time (t)</text>
<text transform="translate(255.67,131.8) scale(1.1457,1)" font-family='"Liberation Sans", sans-serif' font-size="10.3" fill="#000000" class="xl">time (t)</text>
<text transform="translate(424.42,132.7) scale(1.1457,1)" font-family='"Liberation Sans", sans-serif' font-size="10.3" fill="#000000" class="xl">time (t)</text>
<text transform="translate(595.82,132.7) scale(1.1457,1)" font-family='"Liberation Sans", sans-serif' font-size="10.3" fill="#000000" class="xl">time (t)</text>
<text transform="translate(84.02,267.9) scale(1.1457,1)" font-family='"Liberation Sans", sans-serif' font-size="10.3" fill="#000000" class="xl">time (t)</text>
<text transform="translate(256.97,267.8) scale(1.1457,1)" font-family='"Liberation Sans", sans-serif' font-size="10.3" fill="#000000" class="xl">time (t)</text>
<text transform="translate(424.87,266.9) scale(1.1457,1)" font-family='"Liberation Sans", sans-serif' font-size="10.3" fill="#000000" class="xl">time (t)</text>
<text transform="translate(596.87,266.9) scale(1.1457,1)" font-family='"Liberation Sans", sans-serif' font-size="10.3" fill="#000000" class="xl">time (t)</text>
<g transform="translate(9.4,73) rotate(-90)"><path d="M2.9,-7.3 L0.3,-2.85 L2.9,1.6" fill="none" stroke="#000000" stroke-width="0.75"/><text x="3.96" y="0" font-family='"Liberation Sans", sans-serif' font-size="10" fill="#000000" style="stroke-width:0.22px">Δ</text><text x="12.48" y="0" font-family='"Liberation Sans", sans-serif' font-size="10" font-style="italic" fill="#000000" style="stroke-width:0.22px">r</text><text x="17.06" y="-4.4" font-family='"Liberation Sans", sans-serif' font-size="6.6" fill="#000000" style="stroke-width:0.22px">2</text><text x="19.93" y="-0.6" font-family='"Liberation Sans", sans-serif' font-size="9.6" fill="#000000" style="stroke-width:0.22px">(</text><text x="23.51" y="0" font-family='"Liberation Sans", sans-serif' font-size="10" font-style="italic" fill="#000000" style="stroke-width:0.22px">t</text><text x="27.27" y="-0.6" font-family='"Liberation Sans", sans-serif' font-size="9.6" fill="#000000" style="stroke-width:0.22px">)</text><path d="M30.5,-7.3 L33.1,-2.85 L30.5,1.6" fill="none" stroke="#000000" stroke-width="0.75"/></g>
<g transform="translate(184.4,72.9) rotate(-90)"><path d="M2.9,-7.3 L0.3,-2.85 L2.9,1.6" fill="none" stroke="#000000" stroke-width="0.75"/><text x="3.96" y="0" font-family='"Liberation Sans", sans-serif' font-size="10" fill="#000000" style="stroke-width:0.22px">Δ</text><text x="12.48" y="0" font-family='"Liberation Sans", sans-serif' font-size="10" font-style="italic" fill="#000000" style="stroke-width:0.22px">r</text><text x="17.06" y="-4.4" font-family='"Liberation Sans", sans-serif' font-size="6.6" fill="#000000" style="stroke-width:0.22px">2</text><text x="19.93" y="-0.6" font-family='"Liberation Sans", sans-serif' font-size="9.6" fill="#000000" style="stroke-width:0.22px">(</text><text x="23.51" y="0" font-family='"Liberation Sans", sans-serif' font-size="10" font-style="italic" fill="#000000" style="stroke-width:0.22px">t</text><text x="27.27" y="-0.6" font-family='"Liberation Sans", sans-serif' font-size="9.6" fill="#000000" style="stroke-width:0.22px">)</text><path d="M30.5,-7.3 L33.1,-2.85 L30.5,1.6" fill="none" stroke="#000000" stroke-width="0.75"/></g>
<g transform="translate(10.8,208.1) rotate(-90)"><path d="M2.9,-7.3 L0.3,-2.85 L2.9,1.6" fill="none" stroke="#000000" stroke-width="0.75"/><text x="3.96" y="0" font-family='"Liberation Sans", sans-serif' font-size="10" fill="#000000" style="stroke-width:0.22px">Δ</text><text x="12.48" y="0" font-family='"Liberation Sans", sans-serif' font-size="10" font-style="italic" fill="#000000" style="stroke-width:0.22px">r</text><text x="17.06" y="-4.4" font-family='"Liberation Sans", sans-serif' font-size="6.6" fill="#000000" style="stroke-width:0.22px">2</text><text x="19.93" y="-0.6" font-family='"Liberation Sans", sans-serif' font-size="9.6" fill="#000000" style="stroke-width:0.22px">(</text><text x="23.51" y="0" font-family='"Liberation Sans", sans-serif' font-size="10" font-style="italic" fill="#000000" style="stroke-width:0.22px">t</text><text x="27.27" y="-0.6" font-family='"Liberation Sans", sans-serif' font-size="9.6" fill="#000000" style="stroke-width:0.22px">)</text><path d="M30.5,-7.3 L33.1,-2.85 L30.5,1.6" fill="none" stroke="#000000" stroke-width="0.75"/></g>
<g transform="translate(183.8,208.1) rotate(-90)"><path d="M2.9,-7.3 L0.3,-2.85 L2.9,1.6" fill="none" stroke="#000000" stroke-width="0.75"/><text x="3.96" y="0" font-family='"Liberation Sans", sans-serif' font-size="10" fill="#000000" style="stroke-width:0.22px">Δ</text><text x="12.48" y="0" font-family='"Liberation Sans", sans-serif' font-size="10" font-style="italic" fill="#000000" style="stroke-width:0.22px">r</text><text x="17.06" y="-4.4" font-family='"Liberation Sans", sans-serif' font-size="6.6" fill="#000000" style="stroke-width:0.22px">2</text><text x="19.93" y="-0.6" font-family='"Liberation Sans", sans-serif' font-size="9.6" fill="#000000" style="stroke-width:0.22px">(</text><text x="23.51" y="0" font-family='"Liberation Sans", sans-serif' font-size="10" font-style="italic" fill="#000000" style="stroke-width:0.22px">t</text><text x="27.27" y="-0.6" font-family='"Liberation Sans", sans-serif' font-size="9.6" fill="#000000" style="stroke-width:0.22px">)</text><path d="M30.5,-7.3 L33.1,-2.85 L30.5,1.6" fill="none" stroke="#000000" stroke-width="0.75"/></g>
<g transform="translate(355.4,58.2) rotate(-90)"><text transform="translate(-8.12,0) scale(1.2076,1)" font-family='"Liberation Sans", sans-serif' font-style="italic" font-size="9.4" fill="#000000">β(t)</text></g>
<g transform="translate(526.2,58.3) rotate(-90)"><text transform="translate(-8.12,0) scale(1.2076,1)" font-family='"Liberation Sans", sans-serif' font-style="italic" font-size="9.4" fill="#000000">β(t)</text></g>
<g transform="translate(356.2,192.2) rotate(-90)"><text transform="translate(-8.12,0) scale(1.2076,1)" font-family='"Liberation Sans", sans-serif' font-style="italic" font-size="9.4" fill="#000000">β(t)</text></g>
<g transform="translate(527.1,192.2) rotate(-90)"><text transform="translate(-8.12,0) scale(1.2076,1)" font-family='"Liberation Sans", sans-serif' font-style="italic" font-size="9.4" fill="#000000">β(t)</text></g></svg>
</body></html>
